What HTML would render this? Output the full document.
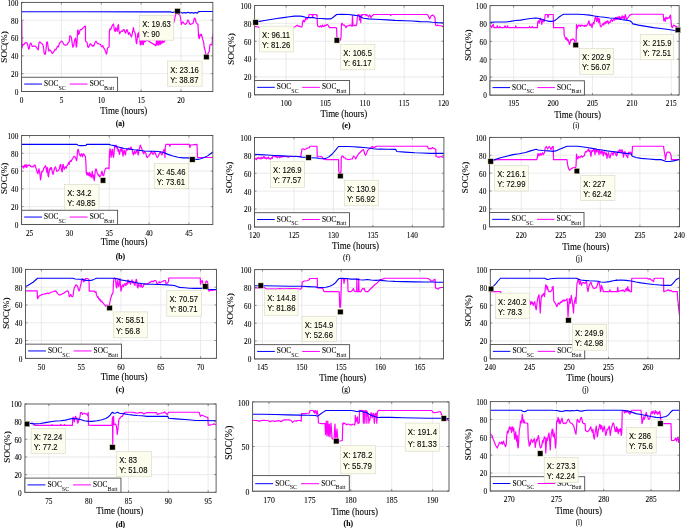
<!DOCTYPE html>
<html><head><meta charset="utf-8"><style>
html,body{margin:0;padding:0;background:#fff;}
svg{display:block;will-change:transform;}
text{font-family:'Liberation Serif', serif;fill:#000;stroke:#000;stroke-width:0.08px;}
</style></head><body>
<svg width="685" height="528" viewBox="0 0 685 528">
<rect width="685" height="528" fill="#fff"/>
<g><line x1="61.44" y1="2.4" x2="61.44" y2="91.45" stroke="#e3e3e3" stroke-width="0.7"/><line x1="101.29" y1="2.4" x2="101.29" y2="91.45" stroke="#e3e3e3" stroke-width="0.7"/><line x1="141.13" y1="2.4" x2="141.13" y2="91.45" stroke="#e3e3e3" stroke-width="0.7"/><line x1="180.97" y1="2.4" x2="180.97" y2="91.45" stroke="#e3e3e3" stroke-width="0.7"/><line x1="21.6" y1="73.64" x2="212.85" y2="73.64" stroke="#e3e3e3" stroke-width="0.7"/><line x1="21.6" y1="55.83" x2="212.85" y2="55.83" stroke="#e3e3e3" stroke-width="0.7"/><line x1="21.6" y1="38.02" x2="212.85" y2="38.02" stroke="#e3e3e3" stroke-width="0.7"/><line x1="21.6" y1="20.21" x2="212.85" y2="20.21" stroke="#e3e3e3" stroke-width="0.7"/><clipPath id="ca"><rect x="21.6" y="2.4" width="191.25" height="89.05"/></clipPath><path d="M21.72,20.93 L21.97,48.01 L22.71,44.32 L23.69,44.93 L24.92,43.09 L26.16,42.47 L27.14,43.09 L28,46.16 L28.62,49.24 L29.23,48.63 L29.85,44.93 L30.46,43.09 L31.33,43.7 L32.06,46.16 L32.93,46.53 L33.79,46.16 L34.77,46.16 L36,46.78 L37.23,48.63 L38.22,49.86 L39.08,42.47 L39.94,41.86 L40.93,42.84 L41.91,43.7 L42.77,44.56 L43.39,46.78 L44.13,52.94 L44.62,54.17 L45.36,54.17 L46.1,49.24 L46.59,42.47 L47.33,41.86 L48.07,46.78 L48.81,51.09 L49.55,49.86 L50.53,50.47 L51.39,51.7 L52.25,53.55 L53.24,52.32 L54.22,51.09 L55.09,49.24 L55.95,49.86 L56.93,47.4 L57.67,46.16 L58.41,46.78 L59.15,44.32 L60.01,42.47 L60.87,41.86 L61.86,41.24 L62.84,42.47 L63.7,44.32 L64.56,44.93 L65.55,45.3 L66.53,44.93 L67.4,44.32 L68.26,42.47 L69.24,41.86 L69.86,35.7 L70.47,36.32 L71.21,36.93 L71.7,39.39 L72.32,44.32 L72.94,47.4 L73.67,45.55 L74.17,42.47 L74.91,39.15 L75.64,38.16 L76.14,46.78 L76.63,46.78 L77.12,40.62 L77.61,30.16 L78.11,30.16 L78.6,34.47 L79.09,33.85 L79.83,30.78 L80.57,29.55 L81.55,29.55 L82.54,28.31 L83.52,27.7 L84.26,26.47 L85,26.47 L84.98,26.1 L85.48,26.47 L85.48,40.62 L86.22,41.86 L87.08,42.47 L87.69,46.78 L88.43,47.4 L89.17,46.16 L90.16,43.7 L90.89,44.32 L91.63,44.93 L92.37,46.16 L93.11,45.3 L93.85,46.16 L94.59,43.7 L95.33,41.86 L96.06,41.24 L96.8,42.47 L97.54,43.7 L98.53,43.7 L99.51,44.07 L100.5,44.56 L101.23,46.16 L101.97,46.78 L102.71,45.55 L103.45,47.4 L104.19,48.63 L104.93,49.86 L105.67,51.7 L106.41,54.17 L106.9,52.94 L107.39,48.63 L108.13,47.4 L109.11,46.78 L109.36,32.01 L109.85,28.93 L110.59,29.55 L111.33,28.31 L112.07,25.85 L112.81,24.62 L113.55,24.01 L114.04,27.7 L114.53,30.78 L115.27,31.39 L115.76,27.7 L116.5,29.55 L117.24,31.39 L117.98,25.24 L118.47,24.62 L118.96,30.78 L119.7,33.85 L120.44,32.01 L121.18,31.39 L121.92,30.78 L122.66,31.39 L123.39,29.55 L124.13,29.55 L124.87,32.01 L125.61,33.24 L126.35,30.16 L127.09,29.55 L127.83,32.01 L128.56,34.47 L129.3,32.62 L130.04,33.85 L130.78,35.7 L131.52,36.93 L132.26,33.85 L133,29.55 L133.49,27.7 L133.98,31.39 L134.72,32.01 L135.46,34.47 L136.2,42.47 L136.69,43.7 L137.43,36.93 L137.92,33.24 L138.41,36.93 L138.91,32.01 L139.64,39.64 L140.38,44.93 L141.12,39.64 L141.86,44.56 L142.6,40.01 L143.34,44.56 L144.08,40.01 L145.06,41.86 L146.78,40.01 L156,45.62 L156.5,40 L157.25,45 L158,40.25 L158.75,45.25 L159.5,40.62 L160.25,44.38 L161,40 L161.75,43.75 L162.75,40.62 L163.75,42.5 L174.25,21.25 L175.25,16.25 L175.75,14.38 L176.75,13.12 L179.88,15 L180.75,18.75 L181.25,24.38 L182,23.12 L183,21.88 L184.25,23.75 L185.5,24.38 L186.75,23.12 L187.75,20 L188.62,20.62 L189.5,23.75 L190.5,24.38 L191.75,23.75 L192.75,23.75 L193.62,21.25 L194.25,18.12 L195.25,18.75 L196.12,22.5 L197,23.75 L198,24.38 L198.5,36.25 L199.25,38.75 L200,34.38 L200.75,35.62 L201.5,34.38 L202.25,37.5 L202.75,40 L203.5,41.25 L204.25,47.5 L205,50 L205.5,52.5 L206,55 L208,53.75 L209.25,51.25 L209.88,45 L211.12,44.38 L212,45 L212.75,36.25 L213.5,33.12 L214,31.88" fill="none" stroke="#ff00ff" stroke-width="1.2" stroke-linejoin="round" clip-path="url(#ca)"/><path d="M21.48,11.7 L85,11.7 L148,11.88 L170.5,11.88 L172.38,12.5 L174.88,11.88 L180.5,12.25 L182.38,13.12 L184.25,12.5 L186.12,13.12 L188,12.25 L189.88,13.12 L191.75,12.5 L193.62,13.12 L195.5,12.5 L197.38,13.12 L198.62,11.62 L200.5,11.5 L214,11.5" fill="none" stroke="#0000ff" stroke-width="1.1" stroke-linejoin="round" clip-path="url(#ca)"/><line x1="21.6" y1="91.45" x2="21.6" y2="89.45" stroke="#4d4d4d" stroke-width="0.6"/><line x1="21.6" y1="2.4" x2="21.6" y2="4.4" stroke="#4d4d4d" stroke-width="0.6"/><line x1="61.44" y1="91.45" x2="61.44" y2="89.45" stroke="#4d4d4d" stroke-width="0.6"/><line x1="61.44" y1="2.4" x2="61.44" y2="4.4" stroke="#4d4d4d" stroke-width="0.6"/><line x1="101.29" y1="91.45" x2="101.29" y2="89.45" stroke="#4d4d4d" stroke-width="0.6"/><line x1="101.29" y1="2.4" x2="101.29" y2="4.4" stroke="#4d4d4d" stroke-width="0.6"/><line x1="141.13" y1="91.45" x2="141.13" y2="89.45" stroke="#4d4d4d" stroke-width="0.6"/><line x1="141.13" y1="2.4" x2="141.13" y2="4.4" stroke="#4d4d4d" stroke-width="0.6"/><line x1="180.97" y1="91.45" x2="180.97" y2="89.45" stroke="#4d4d4d" stroke-width="0.6"/><line x1="180.97" y1="2.4" x2="180.97" y2="4.4" stroke="#4d4d4d" stroke-width="0.6"/><line x1="21.6" y1="91.45" x2="23.6" y2="91.45" stroke="#4d4d4d" stroke-width="0.6"/><line x1="212.85" y1="91.45" x2="210.85" y2="91.45" stroke="#4d4d4d" stroke-width="0.6"/><line x1="21.6" y1="73.64" x2="23.6" y2="73.64" stroke="#4d4d4d" stroke-width="0.6"/><line x1="212.85" y1="73.64" x2="210.85" y2="73.64" stroke="#4d4d4d" stroke-width="0.6"/><line x1="21.6" y1="55.83" x2="23.6" y2="55.83" stroke="#4d4d4d" stroke-width="0.6"/><line x1="212.85" y1="55.83" x2="210.85" y2="55.83" stroke="#4d4d4d" stroke-width="0.6"/><line x1="21.6" y1="38.02" x2="23.6" y2="38.02" stroke="#4d4d4d" stroke-width="0.6"/><line x1="212.85" y1="38.02" x2="210.85" y2="38.02" stroke="#4d4d4d" stroke-width="0.6"/><line x1="21.6" y1="20.21" x2="23.6" y2="20.21" stroke="#4d4d4d" stroke-width="0.6"/><line x1="212.85" y1="20.21" x2="210.85" y2="20.21" stroke="#4d4d4d" stroke-width="0.6"/><line x1="21.6" y1="2.4" x2="23.6" y2="2.4" stroke="#4d4d4d" stroke-width="0.6"/><line x1="212.85" y1="2.4" x2="210.85" y2="2.4" stroke="#4d4d4d" stroke-width="0.6"/><rect x="21.6" y="2.4" width="191.25" height="89.05" fill="none" stroke="#4d4d4d" stroke-width="0.9"/><text transform="translate(21.6,102.65) scale(1,1.1)" font-size="7.3" text-anchor="middle">0</text><text transform="translate(61.44,102.65) scale(1,1.1)" font-size="7.3" text-anchor="middle">5</text><text transform="translate(101.29,102.65) scale(1,1.1)" font-size="7.3" text-anchor="middle">10</text><text transform="translate(141.13,102.65) scale(1,1.1)" font-size="7.3" text-anchor="middle">15</text><text transform="translate(180.97,102.65) scale(1,1.1)" font-size="7.3" text-anchor="middle">20</text><text transform="translate(18.4,94.85) scale(1,1.1)" font-size="7.3" text-anchor="end">0</text><text transform="translate(18.4,77.04) scale(1,1.1)" font-size="7.3" text-anchor="end">20</text><text transform="translate(18.4,59.23) scale(1,1.1)" font-size="7.3" text-anchor="end">40</text><text transform="translate(18.4,41.42) scale(1,1.1)" font-size="7.3" text-anchor="end">60</text><text transform="translate(18.4,23.61) scale(1,1.1)" font-size="7.3" text-anchor="end">80</text><text transform="translate(18.4,5.8) scale(1,1.1)" font-size="7.3" text-anchor="end">100</text><text transform="translate(123.75,114.2) scale(1,1.12)" font-size="9" text-anchor="middle">Time (hours)</text><text transform="translate(120.1,125.9) scale(1,1.1)" font-size="7.7" font-weight="bold" text-anchor="middle">(a)</text><text transform="translate(6.7,47) rotate(-90)" font-size="9.1" text-anchor="middle">SOC(%)</text><rect x="21.6" y="77.25" width="96.0" height="14.2" fill="#fff" stroke="#4d4d4d" stroke-width="0.9"/><line x1="24.2" y1="84.05" x2="42" y2="84.05" stroke="#0000ff" stroke-width="1"/><text transform="translate(44.1,86.05) scale(1,1.1)" font-size="7.4">SOC<tspan font-size="6.1" dy="3.4" stroke="none">SC</tspan></text><line x1="69.7" y1="84.05" x2="87.6" y2="84.05" stroke="#ff00ff" stroke-width="1"/><text transform="translate(89.7,86.05) scale(1,1.1)" font-size="7.4">SOC<tspan font-size="6.1" dy="3.4" stroke="none">Batt</tspan></text><rect x="139.6" y="15.35" width="34.2" height="24.85" fill="#fdfdee" stroke="#d6d6c6" stroke-width="0.6"/><text transform="translate(142.2,26.85) scale(1,1.1)" style="font-family:'Liberation Sans', sans-serif" font-size="7.7" fill="#2e2e2e" stroke="none">X: 19.63</text><text transform="translate(142.2,36.95) scale(1,1.1)" style="font-family:'Liberation Sans', sans-serif" font-size="7.7" fill="#2e2e2e" stroke="none">Y: 90</text><rect x="174.8" y="8.5" width="5.4" height="5.4" fill="#000" stroke="#e8e4b0" stroke-width="0.5"/><rect x="167.6" y="61" width="34.5" height="25.2" fill="#fdfdee" stroke="#d6d6c6" stroke-width="0.6"/><text transform="translate(170.2,72.5) scale(1,1.1)" style="font-family:'Liberation Sans', sans-serif" font-size="7.7" fill="#2e2e2e" stroke="none">X: 23.16</text><text transform="translate(170.2,82.6) scale(1,1.1)" style="font-family:'Liberation Sans', sans-serif" font-size="7.7" fill="#2e2e2e" stroke="none">Y: 38.87</text><rect x="203.7" y="54.3" width="5.4" height="5.4" fill="#000" stroke="#e8e4b0" stroke-width="0.5"/></g><g><line x1="29.57" y1="135.5" x2="29.57" y2="224.45" stroke="#e3e3e3" stroke-width="0.7"/><line x1="69.41" y1="135.5" x2="69.41" y2="224.45" stroke="#e3e3e3" stroke-width="0.7"/><line x1="109.26" y1="135.5" x2="109.26" y2="224.45" stroke="#e3e3e3" stroke-width="0.7"/><line x1="149.1" y1="135.5" x2="149.1" y2="224.45" stroke="#e3e3e3" stroke-width="0.7"/><line x1="188.94" y1="135.5" x2="188.94" y2="224.45" stroke="#e3e3e3" stroke-width="0.7"/><line x1="21.6" y1="206.66" x2="212.85" y2="206.66" stroke="#e3e3e3" stroke-width="0.7"/><line x1="21.6" y1="188.87" x2="212.85" y2="188.87" stroke="#e3e3e3" stroke-width="0.7"/><line x1="21.6" y1="171.08" x2="212.85" y2="171.08" stroke="#e3e3e3" stroke-width="0.7"/><line x1="21.6" y1="153.29" x2="212.85" y2="153.29" stroke="#e3e3e3" stroke-width="0.7"/><clipPath id="cb"><rect x="21.6" y="135.5" width="191.25" height="88.95"/></clipPath><path d="M21.5,165.62 L22.25,166.88 L23,166.25 L23.75,168.12 L24.5,165 L25.25,166.88 L26,164.38 L26.75,167.5 L27.5,165.62 L28.25,165 L29,165.62 L29.75,165 L30.5,166.25 L31.25,166.88 L32,166.25 L32.75,166.88 L33.5,166.88 L34.25,165 L35,165 L35.75,167.5 L36.5,169.38 L37.25,172.5 L38,173.75 L38.5,170.62 L39,168.75 L39.5,171.25 L40,175 L40.5,180 L41,177.5 L41.5,172.5 L42,171.25 L42.5,171.88 L43.25,170 L43.75,168.12 L44.5,167.5 L45,166.25 L45.5,165.62 L46,166.88 L46.5,170.62 L47,172.5 L47.5,167.5 L48,175 L48.5,176.88 L49,172.5 L49.5,170 L50,168.12 L50.5,169.38 L51,167.5 L51.5,168.12 L52,170.62 L52.5,172.5 L53,174.38 L53.5,172.5 L54,170 L54.75,168.12 L55.5,166.88 L56,168.12 L56.5,171.25 L57.25,171.25 L58,170.62 L58.75,170 L59.5,168.75 L60,165 L60.75,164.38 L61.25,168.75 L61.75,171.25 L62.25,171.88 L62.75,165 L63.25,164.38 L63.75,167.5 L64.25,169.38 L64.75,168.12 L65.5,166.88 L66.25,168.12 L67,165.62 L67.75,165 L68.25,163.75 L68.75,162.5 L69.25,164.38 L69.75,161.88 L70.5,160.62 L71.25,161.25 L72,159.38 L72.75,158.75 L73.5,156.88 L74.25,156.25 L75,156.88 L75.75,158.12 L76.5,160.62 L77,158.12 L77.5,151.25 L78,149.38 L78.5,150 L79,153.12 L79.75,155 L80.5,156.25 L81.25,153.75 L82,154.38 L82.5,156.88 L83.25,153.75 L84,154.38 L84.75,155.62 L85.5,156.88 L85.5,157.5 L86,165 L86.25,172.5 L86.75,175 L87.25,172.5 L87.75,175 L88.25,173.12 L88.75,175.62 L89.5,172.5 L90,176.25 L90.5,173.75 L91.25,177.5 L91.75,175 L92.25,171.25 L92.75,176.25 L93.25,178.12 L93.75,175 L94.25,180.62 L94.75,176.25 L95.25,171.25 L96,168.75 L96.5,170 L97,172.5 L97.75,173.75 L98.25,175.62 L99,175 L99.5,176.88 L100.25,176.25 L101,175 L101.5,172.5 L102,171.25 L102.5,173.75 L103,175.62 L103.75,175.62 L104.25,172.5 L104.75,170.62 L105.5,168.75 L106.25,168.12 L107.25,168.12 L108.25,168.12 L109,168.75 L109.5,152.5 L110,148.75 L110.5,150.62 L111,157.5 L111.5,155 L112,150 L112.5,149.38 L113,155 L113.5,157.5 L114,153.75 L114.5,147.5 L115,145.62 L115.5,146.88 L116,145 L116.5,146.25 L117,148.75 L117.5,147.5 L118,151.25 L118.5,149.38 L119,152.5 L119.5,154.38 L120,151.25 L120.5,148.75 L121,149.38 L121.5,151.25 L122,147.5 L122.5,152.5 L123,156.25 L123.5,153.75 L124,150 L124.5,151.25 L125,153.75 L125.5,155 L126,150.62 L126.5,149.38 L127.25,150 L128,148.75 L128.75,148.12 L129.5,149.38 L130.25,148.75 L131,146.88 L131.5,148.12 L132.25,150.62 L133,153.75 L133.5,155 L134,152.5 L134.5,151.25 L135.25,153.75 L136,152.5 L136.5,150.62 L137.25,150 L137.75,153.12 L138.25,155 L138.75,152.5 L139.25,148.75 L139.75,147.5 L140.25,145 L141,146.88 L141.5,148.12 L142.25,150 L143,152.5 L143.75,153.75 L144.5,151.25 L145.25,152.5 L146,153.75 L146.5,156.88 L147.25,157.5 L148,156.25 L149,156.25 L149.25,155 L150.5,153.75 L151.25,151.25 L152,152.5 L153,154.38 L153.75,153.75 L154.5,151.25 L155.25,153.12 L156,155 L156.75,156.88 L157.5,157.5 L158.25,156.25 L159,154.38 L159.75,153.12 L160.5,151.88 L161.25,153.75 L162,155 L162.75,152.5 L163.5,150.62 L164,149.38 L164.5,149.75 L165,157.5 L165.25,146.88 L165.75,145 L166.25,144.38 L169.25,144.38 L169.88,146.25 L170.5,144.38 L189.25,144.38 L189.88,147.5 L190.5,145 L197,144.38 L197.5,157.5 L214,157.5" fill="none" stroke="#ff00ff" stroke-width="1.2" stroke-linejoin="round" clip-path="url(#cb)"/><path d="M21.5,144.38 L76.88,144.38 L78.12,145.25 L80,145.62 L82.5,145.62 L86,145.25 L86,145.62 L86.5,144.38 L109,144.38 L110.88,145 L114,145.62 L116.5,146.5 L120.25,147.5 L124,148.5 L129,149 L134,149.75 L139,150.25 L144,151 L150,151.25 L153,151.25 L158,151.5 L163,152.25 L168,154.38 L173,156 L178,157.25 L183,157.88 L188,157.88 L192.38,158.75 L195.5,159.38 L198,159.38 L200.5,158.75 L204.25,157.5 L208,155.62 L210.5,153.75 L214,151.25" fill="none" stroke="#0000ff" stroke-width="1.1" stroke-linejoin="round" clip-path="url(#cb)"/><line x1="29.57" y1="224.45" x2="29.57" y2="222.45" stroke="#4d4d4d" stroke-width="0.6"/><line x1="29.57" y1="135.5" x2="29.57" y2="137.5" stroke="#4d4d4d" stroke-width="0.6"/><line x1="69.41" y1="224.45" x2="69.41" y2="222.45" stroke="#4d4d4d" stroke-width="0.6"/><line x1="69.41" y1="135.5" x2="69.41" y2="137.5" stroke="#4d4d4d" stroke-width="0.6"/><line x1="109.26" y1="224.45" x2="109.26" y2="222.45" stroke="#4d4d4d" stroke-width="0.6"/><line x1="109.26" y1="135.5" x2="109.26" y2="137.5" stroke="#4d4d4d" stroke-width="0.6"/><line x1="149.1" y1="224.45" x2="149.1" y2="222.45" stroke="#4d4d4d" stroke-width="0.6"/><line x1="149.1" y1="135.5" x2="149.1" y2="137.5" stroke="#4d4d4d" stroke-width="0.6"/><line x1="188.94" y1="224.45" x2="188.94" y2="222.45" stroke="#4d4d4d" stroke-width="0.6"/><line x1="188.94" y1="135.5" x2="188.94" y2="137.5" stroke="#4d4d4d" stroke-width="0.6"/><line x1="21.6" y1="224.45" x2="23.6" y2="224.45" stroke="#4d4d4d" stroke-width="0.6"/><line x1="212.85" y1="224.45" x2="210.85" y2="224.45" stroke="#4d4d4d" stroke-width="0.6"/><line x1="21.6" y1="206.66" x2="23.6" y2="206.66" stroke="#4d4d4d" stroke-width="0.6"/><line x1="212.85" y1="206.66" x2="210.85" y2="206.66" stroke="#4d4d4d" stroke-width="0.6"/><line x1="21.6" y1="188.87" x2="23.6" y2="188.87" stroke="#4d4d4d" stroke-width="0.6"/><line x1="212.85" y1="188.87" x2="210.85" y2="188.87" stroke="#4d4d4d" stroke-width="0.6"/><line x1="21.6" y1="171.08" x2="23.6" y2="171.08" stroke="#4d4d4d" stroke-width="0.6"/><line x1="212.85" y1="171.08" x2="210.85" y2="171.08" stroke="#4d4d4d" stroke-width="0.6"/><line x1="21.6" y1="153.29" x2="23.6" y2="153.29" stroke="#4d4d4d" stroke-width="0.6"/><line x1="212.85" y1="153.29" x2="210.85" y2="153.29" stroke="#4d4d4d" stroke-width="0.6"/><line x1="21.6" y1="135.5" x2="23.6" y2="135.5" stroke="#4d4d4d" stroke-width="0.6"/><line x1="212.85" y1="135.5" x2="210.85" y2="135.5" stroke="#4d4d4d" stroke-width="0.6"/><rect x="21.6" y="135.5" width="191.25" height="88.95" fill="none" stroke="#4d4d4d" stroke-width="0.9"/><text transform="translate(29.57,235.65) scale(1,1.1)" font-size="7.3" text-anchor="middle">25</text><text transform="translate(69.41,235.65) scale(1,1.1)" font-size="7.3" text-anchor="middle">30</text><text transform="translate(109.26,235.65) scale(1,1.1)" font-size="7.3" text-anchor="middle">35</text><text transform="translate(149.1,235.65) scale(1,1.1)" font-size="7.3" text-anchor="middle">40</text><text transform="translate(188.94,235.65) scale(1,1.1)" font-size="7.3" text-anchor="middle">45</text><text transform="translate(18.4,227.85) scale(1,1.1)" font-size="7.3" text-anchor="end">0</text><text transform="translate(18.4,210.06) scale(1,1.1)" font-size="7.3" text-anchor="end">20</text><text transform="translate(18.4,192.27) scale(1,1.1)" font-size="7.3" text-anchor="end">40</text><text transform="translate(18.4,174.48) scale(1,1.1)" font-size="7.3" text-anchor="end">60</text><text transform="translate(18.4,156.69) scale(1,1.1)" font-size="7.3" text-anchor="end">80</text><text transform="translate(18.4,138.9) scale(1,1.1)" font-size="7.3" text-anchor="end">100</text><text transform="translate(124.1,244.9) scale(1,1.12)" font-size="9" text-anchor="middle">Time (hours)</text><text transform="translate(120.45,259.1) scale(1,1.1)" font-size="7.7" font-weight="bold" text-anchor="middle">(b)</text><text transform="translate(6.5,178.3) rotate(-90)" font-size="9.1" text-anchor="middle">SOC(%)</text><rect x="21.6" y="210.25" width="96.0" height="14.2" fill="#fff" stroke="#4d4d4d" stroke-width="0.9"/><line x1="24.2" y1="217.05" x2="42" y2="217.05" stroke="#0000ff" stroke-width="1"/><text transform="translate(44.1,219.05) scale(1,1.1)" font-size="7.4">SOC<tspan font-size="6.1" dy="3.4" stroke="none">SC</tspan></text><line x1="69.7" y1="217.05" x2="87.6" y2="217.05" stroke="#ff00ff" stroke-width="1"/><text transform="translate(89.7,219.05) scale(1,1.1)" font-size="7.4">SOC<tspan font-size="6.1" dy="3.4" stroke="none">Batt</tspan></text><rect x="64.6" y="184.4" width="34.4" height="25" fill="#fdfdee" stroke="#d6d6c6" stroke-width="0.6"/><text transform="translate(67.2,195.9) scale(1,1.1)" style="font-family:'Liberation Sans', sans-serif" font-size="7.7" fill="#2e2e2e" stroke="none">X: 34.2</text><text transform="translate(67.2,206) scale(1,1.1)" style="font-family:'Liberation Sans', sans-serif" font-size="7.7" fill="#2e2e2e" stroke="none">Y: 49.85</text><rect x="100.3" y="177.7" width="5.4" height="5.4" fill="#000" stroke="#e8e4b0" stroke-width="0.5"/><rect x="154.2" y="163.4" width="34.5" height="25.3" fill="#fdfdee" stroke="#d6d6c6" stroke-width="0.6"/><text transform="translate(156.8,174.9) scale(1,1.1)" style="font-family:'Liberation Sans', sans-serif" font-size="7.7" fill="#2e2e2e" stroke="none">X: 45.46</text><text transform="translate(156.8,185) scale(1,1.1)" style="font-family:'Liberation Sans', sans-serif" font-size="7.7" fill="#2e2e2e" stroke="none">Y: 73.61</text><rect x="189.7" y="156.8" width="5.4" height="5.4" fill="#000" stroke="#e8e4b0" stroke-width="0.5"/></g><g><line x1="41.42" y1="269.4" x2="41.42" y2="358.35" stroke="#e3e3e3" stroke-width="0.7"/><line x1="81.21" y1="269.4" x2="81.21" y2="358.35" stroke="#e3e3e3" stroke-width="0.7"/><line x1="121" y1="269.4" x2="121" y2="358.35" stroke="#e3e3e3" stroke-width="0.7"/><line x1="160.79" y1="269.4" x2="160.79" y2="358.35" stroke="#e3e3e3" stroke-width="0.7"/><line x1="200.58" y1="269.4" x2="200.58" y2="358.35" stroke="#e3e3e3" stroke-width="0.7"/><line x1="25.5" y1="340.56" x2="216.5" y2="340.56" stroke="#e3e3e3" stroke-width="0.7"/><line x1="25.5" y1="322.77" x2="216.5" y2="322.77" stroke="#e3e3e3" stroke-width="0.7"/><line x1="25.5" y1="304.98" x2="216.5" y2="304.98" stroke="#e3e3e3" stroke-width="0.7"/><line x1="25.5" y1="287.19" x2="216.5" y2="287.19" stroke="#e3e3e3" stroke-width="0.7"/><clipPath id="cc"><rect x="25.5" y="269.4" width="191" height="88.95"/></clipPath><path d="M25.5,290.88 L37.12,290.88 L37.5,298.62 L38,298 L38.75,296.5 L39.62,295.75 L40.5,295.25 L41.5,294.88 L42.75,294.25 L44,294.25 L45.25,293.62 L46.5,293.62 L47.75,293 L49,293.62 L50.25,292.75 L51.5,292 L52.75,291.75 L54,291.5 L55,290.88 L55.88,291.12 L56.75,292.38 L57.75,293.62 L59,294.88 L60.25,294.88 L61.5,294.25 L62.75,293.62 L64,293 L65.25,292 L66.5,291.12 L67.75,290.88 L68.5,291.75 L69.25,296.75 L70,296.12 L70.75,294.25 L71.5,296.12 L72.25,296.75 L73,296.12 L73.5,292.38 L74,288.62 L74.5,287.38 L75.25,286.12 L76,284.88 L77,285.5 L77.75,286.75 L78.5,289.88 L79,291.12 L79.75,289.25 L80.5,285.5 L81,284.25 L81.5,280.5 L82,279.88 L82.75,278.62 L83.5,281.75 L84,279.88 L84.75,281.12 L85.5,278.62 L86.5,278.62 L87.75,278.62 L88.5,279.25 L89,279.25 L89.25,291.12 L94.25,291.12 L95.25,292.38 L96,291.75 L96.5,294.88 L97,296.12 L97.5,297.38 L98,296.75 L98.5,298 L99,299.25 L99.5,298.62 L100,300.5 L100.5,299.88 L101,301.75 L101.75,301.12 L102.5,302.38 L103.25,303 L104,304.25 L104.75,304.88 L105.5,306.12 L106.25,305.5 L107,304.88 L107.75,306.12 L108.75,306.75 L109.5,304.25 L110,301.75 L110.5,298.62 L111.25,296.75 L111.75,294.88 L112.5,293.62 L113,293 L113.5,281.75 L114,278.62 L114.75,278 L115.5,278.62 L116.25,286.75 L116.75,288 L117.25,281.75 L117.75,280.5 L118.25,284.88 L118.75,286.75 L119.25,284.25 L120,278.62 L120.5,285.5 L121,291.12 L121.5,289.25 L122,286.12 L122.75,284.88 L123.5,286.75 L124.25,284.25 L125,283.62 L125.75,285.5 L126.5,283 L127.25,284.25 L128,279.88 L128.75,283 L129.25,281.12 L130,282.38 L130.5,284.25 L131.25,281.75 L132,279.88 L132.75,283 L133.5,281.75 L134.25,284.25 L135,285.5 L135.5,282.38 L136.25,279.25 L136.75,280.5 L137.25,286.75 L138,288 L138.5,283.62 L139.25,285.5 L140.25,286.75 L141,284.25 L142,287.38 L143,286.75 L144,284.25 L145,284.25 L146,283.62 L147,284.25 L148,283.62 L149,283 L150,282.38 L151,281.75 L152,281.12 L152,281.12 L153.25,281.75 L154.5,280.5 L155.75,280.5 L156.5,282.38 L157.25,284.25 L158.25,283 L159.25,281.75 L160,283 L160.75,282.38 L161.5,281.75 L162.5,281.5 L163.25,281.12 L164.5,280.5 L165.5,280.5 L166,283.62 L166.75,283.62 L167.75,282.38 L168.5,281.75 L168.75,278 L200.25,278 L200.5,284.25 L201.5,281.12 L202.25,280.5 L203,284.88 L203.88,286.12 L205.12,285.5 L206,281.12 L207,281.12 L207.75,283 L208.25,288 L208.88,291.12 L210.12,290.5 L212,290.5 L214.5,289.88 L218,289.88" fill="none" stroke="#ff00ff" stroke-width="1.2" stroke-linejoin="round" clip-path="url(#cc)"/><path d="M25.5,286.5 L27.75,285.5 L30.25,284 L33.38,282 L37.5,278.25 L72.75,278.25 L75.25,279 L79,279.25 L81.5,279.25 L84,279.88 L86.5,280.5 L88,280.5 L90.5,280.5 L93,279.88 L95.5,278.62 L96.75,278.25 L113,278.25 L116.75,278.62 L120.5,279.88 L124.25,280.5 L128,281.12 L133,282 L138,283 L141.75,283.62 L145.5,284 L150.5,284.25 L152,284.25 L159.5,284.5 L167,284.88 L174.5,285.5 L177,286.5 L179.5,287.38 L184.5,287.75 L189.5,288.25 L194.5,288.38 L200.75,288.38 L204.5,288 L208.25,289.25 L212,289.5 L218,289.5" fill="none" stroke="#0000ff" stroke-width="1.1" stroke-linejoin="round" clip-path="url(#cc)"/><line x1="41.42" y1="358.35" x2="41.42" y2="356.35" stroke="#4d4d4d" stroke-width="0.6"/><line x1="41.42" y1="269.4" x2="41.42" y2="271.4" stroke="#4d4d4d" stroke-width="0.6"/><line x1="81.21" y1="358.35" x2="81.21" y2="356.35" stroke="#4d4d4d" stroke-width="0.6"/><line x1="81.21" y1="269.4" x2="81.21" y2="271.4" stroke="#4d4d4d" stroke-width="0.6"/><line x1="121" y1="358.35" x2="121" y2="356.35" stroke="#4d4d4d" stroke-width="0.6"/><line x1="121" y1="269.4" x2="121" y2="271.4" stroke="#4d4d4d" stroke-width="0.6"/><line x1="160.79" y1="358.35" x2="160.79" y2="356.35" stroke="#4d4d4d" stroke-width="0.6"/><line x1="160.79" y1="269.4" x2="160.79" y2="271.4" stroke="#4d4d4d" stroke-width="0.6"/><line x1="200.58" y1="358.35" x2="200.58" y2="356.35" stroke="#4d4d4d" stroke-width="0.6"/><line x1="200.58" y1="269.4" x2="200.58" y2="271.4" stroke="#4d4d4d" stroke-width="0.6"/><line x1="25.5" y1="358.35" x2="27.5" y2="358.35" stroke="#4d4d4d" stroke-width="0.6"/><line x1="216.5" y1="358.35" x2="214.5" y2="358.35" stroke="#4d4d4d" stroke-width="0.6"/><line x1="25.5" y1="340.56" x2="27.5" y2="340.56" stroke="#4d4d4d" stroke-width="0.6"/><line x1="216.5" y1="340.56" x2="214.5" y2="340.56" stroke="#4d4d4d" stroke-width="0.6"/><line x1="25.5" y1="322.77" x2="27.5" y2="322.77" stroke="#4d4d4d" stroke-width="0.6"/><line x1="216.5" y1="322.77" x2="214.5" y2="322.77" stroke="#4d4d4d" stroke-width="0.6"/><line x1="25.5" y1="304.98" x2="27.5" y2="304.98" stroke="#4d4d4d" stroke-width="0.6"/><line x1="216.5" y1="304.98" x2="214.5" y2="304.98" stroke="#4d4d4d" stroke-width="0.6"/><line x1="25.5" y1="287.19" x2="27.5" y2="287.19" stroke="#4d4d4d" stroke-width="0.6"/><line x1="216.5" y1="287.19" x2="214.5" y2="287.19" stroke="#4d4d4d" stroke-width="0.6"/><line x1="25.5" y1="269.4" x2="27.5" y2="269.4" stroke="#4d4d4d" stroke-width="0.6"/><line x1="216.5" y1="269.4" x2="214.5" y2="269.4" stroke="#4d4d4d" stroke-width="0.6"/><rect x="25.5" y="269.4" width="191" height="88.95" fill="none" stroke="#4d4d4d" stroke-width="0.9"/><text transform="translate(41.42,369.55) scale(1,1.1)" font-size="7.3" text-anchor="middle">50</text><text transform="translate(81.21,369.55) scale(1,1.1)" font-size="7.3" text-anchor="middle">55</text><text transform="translate(121,369.55) scale(1,1.1)" font-size="7.3" text-anchor="middle">60</text><text transform="translate(160.79,369.55) scale(1,1.1)" font-size="7.3" text-anchor="middle">65</text><text transform="translate(200.58,369.55) scale(1,1.1)" font-size="7.3" text-anchor="middle">70</text><text transform="translate(22.3,361.75) scale(1,1.1)" font-size="7.3" text-anchor="end">0</text><text transform="translate(22.3,343.96) scale(1,1.1)" font-size="7.3" text-anchor="end">20</text><text transform="translate(22.3,326.17) scale(1,1.1)" font-size="7.3" text-anchor="end">40</text><text transform="translate(22.3,308.38) scale(1,1.1)" font-size="7.3" text-anchor="end">60</text><text transform="translate(22.3,290.59) scale(1,1.1)" font-size="7.3" text-anchor="end">80</text><text transform="translate(22.3,272.8) scale(1,1.1)" font-size="7.3" text-anchor="end">100</text><text transform="translate(124.1,379.7) scale(1,1.12)" font-size="9" text-anchor="middle">Time (hours)</text><text transform="translate(120.1,392.4) scale(1,1.1)" font-size="7.7" font-weight="bold" text-anchor="middle">(c)</text><text transform="translate(9.1,313.2) rotate(-90)" font-size="9.1" text-anchor="middle">SOC(%)</text><rect x="25.5" y="344.15" width="96.0" height="14.2" fill="#fff" stroke="#4d4d4d" stroke-width="0.9"/><line x1="28.1" y1="350.95" x2="45.9" y2="350.95" stroke="#0000ff" stroke-width="1"/><text transform="translate(48,352.95) scale(1,1.1)" font-size="7.4">SOC<tspan font-size="6.1" dy="3.4" stroke="none">SC</tspan></text><line x1="73.6" y1="350.95" x2="91.5" y2="350.95" stroke="#ff00ff" stroke-width="1"/><text transform="translate(93.6,352.95) scale(1,1.1)" font-size="7.4">SOC<tspan font-size="6.1" dy="3.4" stroke="none">Batt</tspan></text><rect x="113.4" y="311.9" width="34.3" height="25.9" fill="#fdfdee" stroke="#d6d6c6" stroke-width="0.6"/><text transform="translate(116,323.4) scale(1,1.1)" style="font-family:'Liberation Sans', sans-serif" font-size="7.7" fill="#2e2e2e" stroke="none">X: 58.51</text><text transform="translate(116,333.5) scale(1,1.1)" style="font-family:'Liberation Sans', sans-serif" font-size="7.7" fill="#2e2e2e" stroke="none">Y: 56.8</text><rect x="106.85" y="305.3" width="5.4" height="5.4" fill="#000" stroke="#e8e4b0" stroke-width="0.5"/><rect x="166.8" y="290.6" width="34.6" height="25.6" fill="#fdfdee" stroke="#d6d6c6" stroke-width="0.6"/><text transform="translate(169.4,302.1) scale(1,1.1)" style="font-family:'Liberation Sans', sans-serif" font-size="7.7" fill="#2e2e2e" stroke="none">X: 70.57</text><text transform="translate(169.4,312.2) scale(1,1.1)" style="font-family:'Liberation Sans', sans-serif" font-size="7.7" fill="#2e2e2e" stroke="none">Y: 80.71</text><rect x="202.65" y="283.75" width="5.4" height="5.4" fill="#000" stroke="#e8e4b0" stroke-width="0.5"/></g><g><line x1="48.84" y1="404" x2="48.84" y2="492.3" stroke="#e3e3e3" stroke-width="0.7"/><line x1="88.67" y1="404" x2="88.67" y2="492.3" stroke="#e3e3e3" stroke-width="0.7"/><line x1="128.49" y1="404" x2="128.49" y2="492.3" stroke="#e3e3e3" stroke-width="0.7"/><line x1="168.31" y1="404" x2="168.31" y2="492.3" stroke="#e3e3e3" stroke-width="0.7"/><line x1="208.14" y1="404" x2="208.14" y2="492.3" stroke="#e3e3e3" stroke-width="0.7"/><line x1="24.95" y1="474.64" x2="216.1" y2="474.64" stroke="#e3e3e3" stroke-width="0.7"/><line x1="24.95" y1="456.98" x2="216.1" y2="456.98" stroke="#e3e3e3" stroke-width="0.7"/><line x1="24.95" y1="439.32" x2="216.1" y2="439.32" stroke="#e3e3e3" stroke-width="0.7"/><line x1="24.95" y1="421.66" x2="216.1" y2="421.66" stroke="#e3e3e3" stroke-width="0.7"/><clipPath id="cd"><rect x="24.95" y="404" width="191.15" height="88.3"/></clipPath><path d="M24.75,423.88 L30.5,423.5 L31.75,423 L33,423.25 L34.25,425.12 L35.5,425.38 L51.75,425.38 L52,424.5 L52.5,425.38 L60.5,425.38 L60.75,424.25 L61.25,425.38 L64.25,425.38 L64.5,424.5 L65,425.38 L72.38,425.38 L72.75,418.25 L73.25,417 L73.75,419.5 L74.25,422 L75,418.25 L75.5,416.38 L76.25,417.62 L77,418.88 L77.75,423.25 L78.5,421.38 L79.25,418.25 L80,417 L80.5,412.62 L81.75,412.62 L82.5,414.5 L83,413.25 L84.25,413.25 L85.5,413.88 L87,413.88 L87.75,415.75 L88.25,412.62 L88.5,425.12 L94.5,425.38 L102,425.38 L107,425.38 L112,425.38 L112.5,417 L112.75,444.5 L113,424.5 L113.5,416.38 L114,424.5 L114.75,424.5 L115.5,423.88 L116.25,425.75 L116.75,428.88 L117.25,434.5 L117.75,430.75 L118.25,425.75 L118.75,420.75 L119.25,418.25 L120,418.25 L120.75,417 L121.5,416.38 L122.25,416.38 L123,415.12 L123.5,413.88 L124,413.25 L124.5,412.62 L125.75,412.25 L132,412.25 L134.5,412.62 L137,413.25 L139.5,412.62 L142,412.62 L143.88,413.88 L145.12,413.25 L147,412.62 L153,412.62 L151,412.62 L156.62,412.62 L157.25,414.5 L158.5,413.88 L161,413.25 L163.5,412.62 L164.75,412 L166,413.25 L167.25,414.5 L168.5,412.25 L199.12,412.25 L200.38,416.38 L201.62,415.12 L203.5,415.75 L206,417 L207.88,417.62 L208.25,425.12 L209.75,425.12 L212.25,424.5 L214.12,423.88 L215.38,424.5 L217,424.25" fill="none" stroke="#ff00ff" stroke-width="1.2" stroke-linejoin="round" clip-path="url(#cd)"/><path d="M24.75,423.25 L30.5,423.5 L34.25,423.88 L40.5,423.5 L45.5,422.62 L50.5,421.75 L55.5,421 L60.5,420.75 L65.5,420.12 L68,419.5 L70.5,418.88 L73,418.5 L76.75,418.88 L80.5,419.5 L84.25,420.75 L89,421.38 L89,421.38 L92,421.38 L97,420.75 L102,419.75 L105.75,418.5 L108.25,417 L110.12,415.12 L111.38,413.25 L112.62,412.25 L113.88,413.25 L115.75,413 L117.62,412.25 L119.5,413.25 L122,413.5 L124.5,413.88 L128.25,414.5 L133.25,415.12 L137,415.5 L142,415.75 L147,416.38 L153,416.38 L151,416.38 L167.88,416.38 L168.5,418.25 L176,418.88 L188.5,419.75 L196,420.5 L203.5,420.5 L217,420.75" fill="none" stroke="#0000ff" stroke-width="1.1" stroke-linejoin="round" clip-path="url(#cd)"/><line x1="48.84" y1="492.3" x2="48.84" y2="490.3" stroke="#4d4d4d" stroke-width="0.6"/><line x1="48.84" y1="404" x2="48.84" y2="406" stroke="#4d4d4d" stroke-width="0.6"/><line x1="88.67" y1="492.3" x2="88.67" y2="490.3" stroke="#4d4d4d" stroke-width="0.6"/><line x1="88.67" y1="404" x2="88.67" y2="406" stroke="#4d4d4d" stroke-width="0.6"/><line x1="128.49" y1="492.3" x2="128.49" y2="490.3" stroke="#4d4d4d" stroke-width="0.6"/><line x1="128.49" y1="404" x2="128.49" y2="406" stroke="#4d4d4d" stroke-width="0.6"/><line x1="168.31" y1="492.3" x2="168.31" y2="490.3" stroke="#4d4d4d" stroke-width="0.6"/><line x1="168.31" y1="404" x2="168.31" y2="406" stroke="#4d4d4d" stroke-width="0.6"/><line x1="208.14" y1="492.3" x2="208.14" y2="490.3" stroke="#4d4d4d" stroke-width="0.6"/><line x1="208.14" y1="404" x2="208.14" y2="406" stroke="#4d4d4d" stroke-width="0.6"/><line x1="24.95" y1="492.3" x2="26.95" y2="492.3" stroke="#4d4d4d" stroke-width="0.6"/><line x1="216.1" y1="492.3" x2="214.1" y2="492.3" stroke="#4d4d4d" stroke-width="0.6"/><line x1="24.95" y1="474.64" x2="26.95" y2="474.64" stroke="#4d4d4d" stroke-width="0.6"/><line x1="216.1" y1="474.64" x2="214.1" y2="474.64" stroke="#4d4d4d" stroke-width="0.6"/><line x1="24.95" y1="456.98" x2="26.95" y2="456.98" stroke="#4d4d4d" stroke-width="0.6"/><line x1="216.1" y1="456.98" x2="214.1" y2="456.98" stroke="#4d4d4d" stroke-width="0.6"/><line x1="24.95" y1="439.32" x2="26.95" y2="439.32" stroke="#4d4d4d" stroke-width="0.6"/><line x1="216.1" y1="439.32" x2="214.1" y2="439.32" stroke="#4d4d4d" stroke-width="0.6"/><line x1="24.95" y1="421.66" x2="26.95" y2="421.66" stroke="#4d4d4d" stroke-width="0.6"/><line x1="216.1" y1="421.66" x2="214.1" y2="421.66" stroke="#4d4d4d" stroke-width="0.6"/><line x1="24.95" y1="404" x2="26.95" y2="404" stroke="#4d4d4d" stroke-width="0.6"/><line x1="216.1" y1="404" x2="214.1" y2="404" stroke="#4d4d4d" stroke-width="0.6"/><rect x="24.95" y="404" width="191.15" height="88.3" fill="none" stroke="#4d4d4d" stroke-width="0.9"/><text transform="translate(48.84,503.5) scale(1,1.1)" font-size="7.3" text-anchor="middle">75</text><text transform="translate(88.67,503.5) scale(1,1.1)" font-size="7.3" text-anchor="middle">80</text><text transform="translate(128.49,503.5) scale(1,1.1)" font-size="7.3" text-anchor="middle">85</text><text transform="translate(168.31,503.5) scale(1,1.1)" font-size="7.3" text-anchor="middle">90</text><text transform="translate(208.14,503.5) scale(1,1.1)" font-size="7.3" text-anchor="middle">95</text><text transform="translate(21.75,495.7) scale(1,1.1)" font-size="7.3" text-anchor="end">0</text><text transform="translate(21.75,478.04) scale(1,1.1)" font-size="7.3" text-anchor="end">20</text><text transform="translate(21.75,460.38) scale(1,1.1)" font-size="7.3" text-anchor="end">40</text><text transform="translate(21.75,442.72) scale(1,1.1)" font-size="7.3" text-anchor="end">60</text><text transform="translate(21.75,425.06) scale(1,1.1)" font-size="7.3" text-anchor="end">80</text><text transform="translate(21.75,407.4) scale(1,1.1)" font-size="7.3" text-anchor="end">100</text><text transform="translate(119.75,513.8) scale(1,1.12)" font-size="9" text-anchor="middle">Time (hours)</text><text transform="translate(120.45,526.5) scale(1,1.1)" font-size="7.7" font-weight="bold" text-anchor="middle">(d)</text><text transform="translate(9.6,447) rotate(-90)" font-size="9.1" text-anchor="middle">SOC(%)</text><rect x="24.95" y="478.1" width="96.0" height="14.2" fill="#fff" stroke="#4d4d4d" stroke-width="0.9"/><line x1="27.55" y1="484.9" x2="45.35" y2="484.9" stroke="#0000ff" stroke-width="1"/><text transform="translate(47.45,486.9) scale(1,1.1)" font-size="7.4">SOC<tspan font-size="6.1" dy="3.4" stroke="none">SC</tspan></text><line x1="73.05" y1="484.9" x2="90.95" y2="484.9" stroke="#ff00ff" stroke-width="1"/><text transform="translate(93.05,486.9) scale(1,1.1)" font-size="7.4">SOC<tspan font-size="6.1" dy="3.4" stroke="none">Batt</tspan></text><rect x="31.1" y="428.3" width="34.2" height="25.2" fill="#fdfdee" stroke="#d6d6c6" stroke-width="0.6"/><text transform="translate(33.7,439.8) scale(1,1.1)" style="font-family:'Liberation Sans', sans-serif" font-size="7.7" fill="#2e2e2e" stroke="none">X: 72.24</text><text transform="translate(33.7,449.9) scale(1,1.1)" style="font-family:'Liberation Sans', sans-serif" font-size="7.7" fill="#2e2e2e" stroke="none">Y: 77.2</text><rect x="24.3" y="421.3" width="5.4" height="5.4" fill="#000" stroke="#e8e4b0" stroke-width="0.5"/><rect x="116.6" y="451.3" width="34.8" height="25.5" fill="#fdfdee" stroke="#d6d6c6" stroke-width="0.6"/><text transform="translate(119.2,462.8) scale(1,1.1)" style="font-family:'Liberation Sans', sans-serif" font-size="7.7" fill="#2e2e2e" stroke="none">X: 83</text><text transform="translate(119.2,472.9) scale(1,1.1)" style="font-family:'Liberation Sans', sans-serif" font-size="7.7" fill="#2e2e2e" stroke="none">Y: 51.08</text><rect x="109.75" y="444.6" width="5.4" height="5.4" fill="#000" stroke="#e8e4b0" stroke-width="0.5"/></g><g><line x1="286.08" y1="5.55" x2="286.08" y2="94.75" stroke="#e3e3e3" stroke-width="0.7"/><line x1="325.44" y1="5.55" x2="325.44" y2="94.75" stroke="#e3e3e3" stroke-width="0.7"/><line x1="364.79" y1="5.55" x2="364.79" y2="94.75" stroke="#e3e3e3" stroke-width="0.7"/><line x1="404.15" y1="5.55" x2="404.15" y2="94.75" stroke="#e3e3e3" stroke-width="0.7"/><line x1="254.6" y1="76.91" x2="443.5" y2="76.91" stroke="#e3e3e3" stroke-width="0.7"/><line x1="254.6" y1="59.07" x2="443.5" y2="59.07" stroke="#e3e3e3" stroke-width="0.7"/><line x1="254.6" y1="41.23" x2="443.5" y2="41.23" stroke="#e3e3e3" stroke-width="0.7"/><line x1="254.6" y1="23.39" x2="443.5" y2="23.39" stroke="#e3e3e3" stroke-width="0.7"/><clipPath id="ce"><rect x="254.6" y="5.55" width="188.9" height="89.2"/></clipPath><path d="M254.25,26.38 L258.25,27 L259.5,27.62 L292,27.62 L294.5,27 L296.5,25.75 L297.25,25.12 L298.25,26.38 L299.5,26 L300.75,27 L302,27 L302.5,22.62 L303,20.75 L303.75,20.12 L304.25,22 L305,20.75 L305.75,18.25 L306.5,17.62 L307,19.5 L307.75,18.25 L308.5,16.75 L309.25,14.5 L312,14.5 L312.5,17 L313.25,14.5 L315.75,14.5 L316.75,15.75 L317,14.5 L317.5,25.75 L318.5,26.38 L319.75,27 L320.5,25.75 L321.5,27 L322.25,25.12 L323,26.38 L324,26.38 L324.75,25.12 L325.5,25.75 L326.25,25.12 L327.25,24.5 L328,25.12 L328.75,26.38 L329.5,27.62 L331,27.62 L333.5,27.62 L336,27.62 L336.62,28.25 L337,39.5 L339.12,40.12 L340.38,40.12 L341,37 L341.5,23.88 L342,23.25 L342.5,24.5 L343.5,25.12 L344.75,25.12 L345.5,27 L346,27.62 L346.75,26.38 L347.75,25.75 L348.75,25.75 L349.75,25.12 L350.75,25.12 L351.5,25.75 L352,26.38 L352.5,15.75 L353,25.75 L353.5,25.75 L354.25,25.75 L355,25.12 L356,25.75 L356.75,24.5 L357.25,18.25 L358,14.5 L358.75,14.5 L359.25,15.12 L359.5,20.12 L360,17 L360.5,15.75 L360.75,22.62 L361.25,14.5 L362,15.75 L362.75,14.5 L363.5,14.5 L365.5,14.5 L366,15.75 L366.75,14.5 L367.75,15.75 L368.5,17 L369.25,15.12 L370,15.12 L370.75,17.62 L371.5,16.38 L372.25,15.75 L373,15.12 L373.5,14.5 L380,14.5 L390,14.5 L390.75,15.5 L391.5,14.5 L427.5,14.5 L428.75,17 L429.75,18.88 L430.5,17 L431.25,15.75 L432.5,15.12 L433.75,15.75 L434.5,17 L435,17.62 L435.5,25.12 L436.25,25.75 L437.5,25.12 L438.75,25.5 L440,25.75 L441.25,25.75 L442.5,26.38 L446,28.25" fill="none" stroke="#ff00ff" stroke-width="1.2" stroke-linejoin="round" clip-path="url(#ce)"/><path d="M254.25,22.25 L259.5,21.38 L264.5,20.5 L270.75,19.5 L277,18.5 L283.25,17.62 L289.5,16.75 L294.5,16.12 L299.5,16 L302,16.38 L305.75,17.25 L309.5,17.62 L313.25,17.62 L316,18.25 L321,18.5 L326,18.88 L331,18.88 L333.5,17 L336.62,14.5 L341,14.25 L348.5,14.5 L353.5,15.12 L358.5,15.75 L363.5,18.25 L368.5,18.88 L374.75,19.25 L380,19.5 L387.5,19.88 L395,20.38 L405,20.75 L412.5,21 L420,21.62 L427.5,21.75 L432.5,22.25 L437.5,22.62 L446,23" fill="none" stroke="#0000ff" stroke-width="1.1" stroke-linejoin="round" clip-path="url(#ce)"/><line x1="286.08" y1="94.75" x2="286.08" y2="92.75" stroke="#4d4d4d" stroke-width="0.6"/><line x1="286.08" y1="5.55" x2="286.08" y2="7.55" stroke="#4d4d4d" stroke-width="0.6"/><line x1="325.44" y1="94.75" x2="325.44" y2="92.75" stroke="#4d4d4d" stroke-width="0.6"/><line x1="325.44" y1="5.55" x2="325.44" y2="7.55" stroke="#4d4d4d" stroke-width="0.6"/><line x1="364.79" y1="94.75" x2="364.79" y2="92.75" stroke="#4d4d4d" stroke-width="0.6"/><line x1="364.79" y1="5.55" x2="364.79" y2="7.55" stroke="#4d4d4d" stroke-width="0.6"/><line x1="404.15" y1="94.75" x2="404.15" y2="92.75" stroke="#4d4d4d" stroke-width="0.6"/><line x1="404.15" y1="5.55" x2="404.15" y2="7.55" stroke="#4d4d4d" stroke-width="0.6"/><line x1="443.5" y1="94.75" x2="443.5" y2="92.75" stroke="#4d4d4d" stroke-width="0.6"/><line x1="443.5" y1="5.55" x2="443.5" y2="7.55" stroke="#4d4d4d" stroke-width="0.6"/><line x1="254.6" y1="94.75" x2="256.6" y2="94.75" stroke="#4d4d4d" stroke-width="0.6"/><line x1="443.5" y1="94.75" x2="441.5" y2="94.75" stroke="#4d4d4d" stroke-width="0.6"/><line x1="254.6" y1="76.91" x2="256.6" y2="76.91" stroke="#4d4d4d" stroke-width="0.6"/><line x1="443.5" y1="76.91" x2="441.5" y2="76.91" stroke="#4d4d4d" stroke-width="0.6"/><line x1="254.6" y1="59.07" x2="256.6" y2="59.07" stroke="#4d4d4d" stroke-width="0.6"/><line x1="443.5" y1="59.07" x2="441.5" y2="59.07" stroke="#4d4d4d" stroke-width="0.6"/><line x1="254.6" y1="41.23" x2="256.6" y2="41.23" stroke="#4d4d4d" stroke-width="0.6"/><line x1="443.5" y1="41.23" x2="441.5" y2="41.23" stroke="#4d4d4d" stroke-width="0.6"/><line x1="254.6" y1="23.39" x2="256.6" y2="23.39" stroke="#4d4d4d" stroke-width="0.6"/><line x1="443.5" y1="23.39" x2="441.5" y2="23.39" stroke="#4d4d4d" stroke-width="0.6"/><line x1="254.6" y1="5.55" x2="256.6" y2="5.55" stroke="#4d4d4d" stroke-width="0.6"/><line x1="443.5" y1="5.55" x2="441.5" y2="5.55" stroke="#4d4d4d" stroke-width="0.6"/><rect x="254.6" y="5.55" width="188.9" height="89.2" fill="none" stroke="#4d4d4d" stroke-width="0.9"/><text transform="translate(286.08,105.95) scale(1,1.1)" font-size="7.3" text-anchor="middle">100</text><text transform="translate(325.44,105.95) scale(1,1.1)" font-size="7.3" text-anchor="middle">105</text><text transform="translate(364.79,105.95) scale(1,1.1)" font-size="7.3" text-anchor="middle">110</text><text transform="translate(404.15,105.95) scale(1,1.1)" font-size="7.3" text-anchor="middle">115</text><text transform="translate(443.5,105.95) scale(1,1.1)" font-size="7.3" text-anchor="middle">120</text><text transform="translate(251.4,98.15) scale(1,1.1)" font-size="7.3" text-anchor="end">0</text><text transform="translate(251.4,80.31) scale(1,1.1)" font-size="7.3" text-anchor="end">20</text><text transform="translate(251.4,62.47) scale(1,1.1)" font-size="7.3" text-anchor="end">40</text><text transform="translate(251.4,44.63) scale(1,1.1)" font-size="7.3" text-anchor="end">60</text><text transform="translate(251.4,26.79) scale(1,1.1)" font-size="7.3" text-anchor="end">80</text><text transform="translate(251.4,8.95) scale(1,1.1)" font-size="7.3" text-anchor="end">100</text><text transform="translate(343.9,116.6) scale(1,1.12)" font-size="9" text-anchor="middle">Time (hours)</text><text transform="translate(346.2,128.1) scale(1,1.1)" font-size="7.7" font-weight="bold" text-anchor="middle">(e)</text><text transform="translate(233.5,49) rotate(-90)" font-size="9.1" text-anchor="middle">SOC(%)</text><rect x="254.6" y="80.55" width="95.0" height="14.2" fill="#fff" stroke="#4d4d4d" stroke-width="0.9"/><line x1="257.17" y1="87.35" x2="274.79" y2="87.35" stroke="#0000ff" stroke-width="1"/><text transform="translate(276.87,89.35) scale(1,1.1)" font-size="7.4">SOC<tspan font-size="6.1" dy="3.4" stroke="none">SC</tspan></text><line x1="302.2" y1="87.35" x2="319.91" y2="87.35" stroke="#ff00ff" stroke-width="1"/><text transform="translate(321.99,89.35) scale(1,1.1)" font-size="7.4">SOC<tspan font-size="6.1" dy="3.4" stroke="none">Batt</tspan></text><rect x="259.4" y="26.1" width="34.2" height="25.8" fill="#fdfdee" stroke="#d6d6c6" stroke-width="0.6"/><text transform="translate(262,37.6) scale(1,1.1)" style="font-family:'Liberation Sans', sans-serif" font-size="7.7" fill="#2e2e2e" stroke="none">X: 96.11</text><text transform="translate(262,47.7) scale(1,1.1)" style="font-family:'Liberation Sans', sans-serif" font-size="7.7" fill="#2e2e2e" stroke="none">Y: 81.26</text><rect x="252.9" y="19.7" width="5.4" height="5.4" fill="#000" stroke="#e8e4b0" stroke-width="0.5"/><rect x="340.7" y="44.3" width="34.2" height="25.5" fill="#fdfdee" stroke="#d6d6c6" stroke-width="0.6"/><text transform="translate(343.3,55.8) scale(1,1.1)" style="font-family:'Liberation Sans', sans-serif" font-size="7.7" fill="#2e2e2e" stroke="none">X: 106.5</text><text transform="translate(343.3,65.9) scale(1,1.1)" style="font-family:'Liberation Sans', sans-serif" font-size="7.7" fill="#2e2e2e" stroke="none">Y: 61.17</text><rect x="334.15" y="37.65" width="5.4" height="5.4" fill="#000" stroke="#e8e4b0" stroke-width="0.5"/></g><g><line x1="293.96" y1="137.5" x2="293.96" y2="226.9" stroke="#e3e3e3" stroke-width="0.7"/><line x1="333.42" y1="137.5" x2="333.42" y2="226.9" stroke="#e3e3e3" stroke-width="0.7"/><line x1="372.88" y1="137.5" x2="372.88" y2="226.9" stroke="#e3e3e3" stroke-width="0.7"/><line x1="412.33" y1="137.5" x2="412.33" y2="226.9" stroke="#e3e3e3" stroke-width="0.7"/><line x1="254.5" y1="209.02" x2="443.9" y2="209.02" stroke="#e3e3e3" stroke-width="0.7"/><line x1="254.5" y1="191.14" x2="443.9" y2="191.14" stroke="#e3e3e3" stroke-width="0.7"/><line x1="254.5" y1="173.26" x2="443.9" y2="173.26" stroke="#e3e3e3" stroke-width="0.7"/><line x1="254.5" y1="155.38" x2="443.9" y2="155.38" stroke="#e3e3e3" stroke-width="0.7"/><clipPath id="cf"><rect x="254.5" y="137.5" width="189.4" height="89.4"/></clipPath><path d="M254.25,159.62 L255,159 L255.75,158.38 L256.5,159.62 L257.25,157.75 L258,158.38 L258.75,157.5 L259.5,158.75 L260.25,157.75 L261,159 L261.75,157.12 L262.5,158.38 L263.25,157.75 L264,156.25 L264.75,158.38 L265.5,157.75 L266.25,159 L267,157.75 L267.75,158.38 L268.5,157.12 L269.25,159 L270,158.38 L270.75,159 L271.5,157.75 L272.25,158.38 L272.75,156.25 L273.5,156.25 L274.25,155.88 L275.25,156.5 L276,157.12 L276.75,156.25 L277.5,157.75 L278.25,157.12 L279,156.5 L279.75,157.75 L280.5,156.5 L281.5,157.12 L283.25,156.25 L285.75,156.5 L288.25,157.12 L290.75,156.25 L293.25,156.75 L295.75,156.25 L298.25,156.5 L300.75,156.5 L301.5,152.12 L302,149 L303.25,148.75 L304.5,149.62 L305.75,149 L307,148.38 L308.25,147.75 L309.5,147.75 L309.75,146.25 L314.5,146.25 L317,146.25 L317,146.25 L317.25,156.5 L318.5,156.75 L321,156.5 L322.25,157.12 L323.5,159 L326,159.62 L331,159.62 L337.25,159.62 L338.5,159.62 L338.75,171.5 L340.38,174 L341,171.5 L341.25,157.75 L341.75,156.5 L342.5,155.88 L343.25,156.5 L343.75,157.75 L344.75,157.75 L346,159 L348.5,159.62 L351,159 L352.25,159 L353,157.12 L353.75,156.25 L354.5,157.12 L355.25,157.75 L355.75,159 L356.5,157.12 L357.25,155.88 L358.5,154 L359.75,152.75 L361,151.5 L362.25,150.25 L363.5,149.62 L364.25,152.12 L364.75,154 L365.5,155.25 L366.25,154 L367,152.12 L367.75,150.25 L368.5,149.62 L369.75,148.38 L371,147.5 L372.25,146.5 L373.5,147.75 L374.75,147.12 L376.5,146.25 L380,146.25 L427.5,146.25 L428.25,148.38 L429,149 L430,148.38 L431.25,148.75 L432.5,147.5 L433.75,148.38 L435,149 L435.75,149 L436,156.5 L437.5,156.75 L438.75,157.5 L440,156.75 L441.25,156.5 L442.5,157.12 L446,157.12" fill="none" stroke="#ff00ff" stroke-width="1.2" stroke-linejoin="round" clip-path="url(#cf)"/><path d="M254.25,154.25 L259.5,154.62 L267,155 L274.5,155.5 L282,155.88 L289.5,156.25 L297,156.5 L302,157.12 L307,157.5 L312,157.75 L318,158 L318,158.5 L323.5,158.75 L326,158.38 L328.5,157.12 L332.25,154 L336,149.62 L338.5,146.5 L342.25,146.5 L348.5,146.5 L353.5,146.75 L358.5,147.12 L363.5,147.5 L368.5,148 L373.5,148.75 L378.5,149.25 L380,149 L387.5,149.25 L395.62,149.38 L396.88,151.5 L405,152.12 L415,152.75 L422.5,153 L430,153.38 L437.5,153.38 L446,153.38" fill="none" stroke="#0000ff" stroke-width="1.1" stroke-linejoin="round" clip-path="url(#cf)"/><line x1="254.5" y1="226.9" x2="254.5" y2="224.9" stroke="#4d4d4d" stroke-width="0.6"/><line x1="254.5" y1="137.5" x2="254.5" y2="139.5" stroke="#4d4d4d" stroke-width="0.6"/><line x1="293.96" y1="226.9" x2="293.96" y2="224.9" stroke="#4d4d4d" stroke-width="0.6"/><line x1="293.96" y1="137.5" x2="293.96" y2="139.5" stroke="#4d4d4d" stroke-width="0.6"/><line x1="333.42" y1="226.9" x2="333.42" y2="224.9" stroke="#4d4d4d" stroke-width="0.6"/><line x1="333.42" y1="137.5" x2="333.42" y2="139.5" stroke="#4d4d4d" stroke-width="0.6"/><line x1="372.88" y1="226.9" x2="372.88" y2="224.9" stroke="#4d4d4d" stroke-width="0.6"/><line x1="372.88" y1="137.5" x2="372.88" y2="139.5" stroke="#4d4d4d" stroke-width="0.6"/><line x1="412.33" y1="226.9" x2="412.33" y2="224.9" stroke="#4d4d4d" stroke-width="0.6"/><line x1="412.33" y1="137.5" x2="412.33" y2="139.5" stroke="#4d4d4d" stroke-width="0.6"/><line x1="254.5" y1="226.9" x2="256.5" y2="226.9" stroke="#4d4d4d" stroke-width="0.6"/><line x1="443.9" y1="226.9" x2="441.9" y2="226.9" stroke="#4d4d4d" stroke-width="0.6"/><line x1="254.5" y1="209.02" x2="256.5" y2="209.02" stroke="#4d4d4d" stroke-width="0.6"/><line x1="443.9" y1="209.02" x2="441.9" y2="209.02" stroke="#4d4d4d" stroke-width="0.6"/><line x1="254.5" y1="191.14" x2="256.5" y2="191.14" stroke="#4d4d4d" stroke-width="0.6"/><line x1="443.9" y1="191.14" x2="441.9" y2="191.14" stroke="#4d4d4d" stroke-width="0.6"/><line x1="254.5" y1="173.26" x2="256.5" y2="173.26" stroke="#4d4d4d" stroke-width="0.6"/><line x1="443.9" y1="173.26" x2="441.9" y2="173.26" stroke="#4d4d4d" stroke-width="0.6"/><line x1="254.5" y1="155.38" x2="256.5" y2="155.38" stroke="#4d4d4d" stroke-width="0.6"/><line x1="443.9" y1="155.38" x2="441.9" y2="155.38" stroke="#4d4d4d" stroke-width="0.6"/><line x1="254.5" y1="137.5" x2="256.5" y2="137.5" stroke="#4d4d4d" stroke-width="0.6"/><line x1="443.9" y1="137.5" x2="441.9" y2="137.5" stroke="#4d4d4d" stroke-width="0.6"/><rect x="254.5" y="137.5" width="189.4" height="89.4" fill="none" stroke="#4d4d4d" stroke-width="0.9"/><text transform="translate(254.5,238.1) scale(1,1.1)" font-size="7.3" text-anchor="middle">120</text><text transform="translate(293.96,238.1) scale(1,1.1)" font-size="7.3" text-anchor="middle">125</text><text transform="translate(333.42,238.1) scale(1,1.1)" font-size="7.3" text-anchor="middle">130</text><text transform="translate(372.88,238.1) scale(1,1.1)" font-size="7.3" text-anchor="middle">135</text><text transform="translate(412.33,238.1) scale(1,1.1)" font-size="7.3" text-anchor="middle">140</text><text transform="translate(251.3,230.3) scale(1,1.1)" font-size="7.3" text-anchor="end">0</text><text transform="translate(251.3,212.42) scale(1,1.1)" font-size="7.3" text-anchor="end">20</text><text transform="translate(251.3,194.54) scale(1,1.1)" font-size="7.3" text-anchor="end">40</text><text transform="translate(251.3,176.66) scale(1,1.1)" font-size="7.3" text-anchor="end">60</text><text transform="translate(251.3,158.78) scale(1,1.1)" font-size="7.3" text-anchor="end">80</text><text transform="translate(251.3,140.9) scale(1,1.1)" font-size="7.3" text-anchor="end">100</text><text transform="translate(355.5,248.9) scale(1,1.12)" font-size="9" text-anchor="middle">Time (hours)</text><text transform="translate(346.7,260.1) scale(1,1.1)" font-size="7.3" font-weight="normal" text-anchor="middle">(f)</text><text transform="translate(232,177.5) rotate(-90)" font-size="9.1" text-anchor="middle">SOC(%)</text><rect x="254.5" y="212.7" width="95.0" height="14.2" fill="#fff" stroke="#4d4d4d" stroke-width="0.9"/><line x1="257.07" y1="219.5" x2="274.69" y2="219.5" stroke="#0000ff" stroke-width="1"/><text transform="translate(276.77,221.5) scale(1,1.1)" font-size="7.4">SOC<tspan font-size="6.1" dy="3.4" stroke="none">SC</tspan></text><line x1="302.1" y1="219.5" x2="319.81" y2="219.5" stroke="#ff00ff" stroke-width="1"/><text transform="translate(321.89,221.5) scale(1,1.1)" font-size="7.4">SOC<tspan font-size="6.1" dy="3.4" stroke="none">Batt</tspan></text><rect x="270.4" y="161.5" width="34.2" height="25.9" fill="#fdfdee" stroke="#d6d6c6" stroke-width="0.6"/><text transform="translate(273,173) scale(1,1.1)" style="font-family:'Liberation Sans', sans-serif" font-size="7.7" fill="#2e2e2e" stroke="none">X: 126.9</text><text transform="translate(273,183.1) scale(1,1.1)" style="font-family:'Liberation Sans', sans-serif" font-size="7.7" fill="#2e2e2e" stroke="none">Y: 77.57</text><rect x="305.85" y="154.85" width="5.4" height="5.4" fill="#000" stroke="#e8e4b0" stroke-width="0.5"/><rect x="344.3" y="180.2" width="34.2" height="25.6" fill="#fdfdee" stroke="#d6d6c6" stroke-width="0.6"/><text transform="translate(346.9,191.7) scale(1,1.1)" style="font-family:'Liberation Sans', sans-serif" font-size="7.7" fill="#2e2e2e" stroke="none">X: 130.9</text><text transform="translate(346.9,201.8) scale(1,1.1)" style="font-family:'Liberation Sans', sans-serif" font-size="7.7" fill="#2e2e2e" stroke="none">Y: 56.92</text><rect x="337.7" y="173.3" width="5.4" height="5.4" fill="#000" stroke="#e8e4b0" stroke-width="0.5"/></g><g><line x1="262.47" y1="269.6" x2="262.47" y2="358.85" stroke="#e3e3e3" stroke-width="0.7"/><line x1="301.82" y1="269.6" x2="301.82" y2="358.85" stroke="#e3e3e3" stroke-width="0.7"/><line x1="341.18" y1="269.6" x2="341.18" y2="358.85" stroke="#e3e3e3" stroke-width="0.7"/><line x1="380.53" y1="269.6" x2="380.53" y2="358.85" stroke="#e3e3e3" stroke-width="0.7"/><line x1="419.89" y1="269.6" x2="419.89" y2="358.85" stroke="#e3e3e3" stroke-width="0.7"/><line x1="254.6" y1="341" x2="443.5" y2="341" stroke="#e3e3e3" stroke-width="0.7"/><line x1="254.6" y1="323.15" x2="443.5" y2="323.15" stroke="#e3e3e3" stroke-width="0.7"/><line x1="254.6" y1="305.3" x2="443.5" y2="305.3" stroke="#e3e3e3" stroke-width="0.7"/><line x1="254.6" y1="287.45" x2="443.5" y2="287.45" stroke="#e3e3e3" stroke-width="0.7"/><clipPath id="cg"><rect x="254.6" y="269.6" width="188.9" height="89.25"/></clipPath><path d="M254.25,287.88 L259.5,287.88 L263.88,287.25 L265.75,288.5 L268.25,289.12 L272,288.75 L275.75,289.12 L279.5,288.5 L284.5,288.75 L289.5,288.5 L294.5,288.5 L298.25,288.75 L300.75,289.12 L301.75,287.88 L302.25,282 L304.5,281 L307,280.75 L309.25,279.75 L309.75,278.5 L314.5,278.5 L317,278.5 L317.25,278.25 L317.5,287.88 L321,288.25 L323,288.5 L323.5,291 L324.75,291.62 L328.5,291.62 L333.5,291.62 L338.5,291.62 L339.25,292.25 L339.75,307.25 L340.5,307.25 L341,293.5 L341.5,279.75 L342,278.5 L343.5,278.5 L344,283.5 L344.75,279.12 L346,278.5 L347,278.5 L347.75,281 L348,291 L349,291.62 L351,291.62 L352.25,290.38 L353.5,288.5 L354.12,291 L355.5,291.62 L356,291.62 L356.62,291.62 L356.88,278.5 L357.12,291.62 L358.5,291.62 L358.75,278.5 L359,291.62 L359.75,291.62 L361,291.62 L361.75,289.75 L362.5,288.5 L363.5,289.12 L364.25,288.5 L365,291 L366,291.62 L368,291.62 L369.75,289.75 L372.25,287.25 L374.75,284.75 L377.25,282.88 L379.75,280.38 L380,279.75 L382.5,279.12 L385,278.25 L405,278.25 L426.25,278.25 L428.12,278.5 L430,279.75 L431.5,281.25 L432.5,281 L433.75,280 L435,279.12 L435.5,287.88 L436.88,288.5 L438.12,289.12 L439.38,287.88 L441.25,287.5 L446,287.5" fill="none" stroke="#ff00ff" stroke-width="1.2" stroke-linejoin="round" clip-path="url(#cg)"/><path d="M254.25,285.75 L264.5,285.75 L277,286 L289.5,286.25 L302,286.25 L308.25,286.62 L317,287 L316,287.25 L321,287.5 L326,287.25 L329.75,286.25 L332.88,284.75 L335.38,282.88 L337.25,280.38 L339.12,278.5 L341,278.25 L346,278.5 L351,279.12 L356,279.12 L359.75,279.75 L363.5,280 L367.25,279.5 L371,280 L376,280.38 L381,280 L380,280.38 L387.5,281 L395,281.38 L405,281.62 L415,281.88 L425,282 L432.5,282 L437.5,282.25 L446,282.25" fill="none" stroke="#0000ff" stroke-width="1.1" stroke-linejoin="round" clip-path="url(#cg)"/><line x1="262.47" y1="358.85" x2="262.47" y2="356.85" stroke="#4d4d4d" stroke-width="0.6"/><line x1="262.47" y1="269.6" x2="262.47" y2="271.6" stroke="#4d4d4d" stroke-width="0.6"/><line x1="301.82" y1="358.85" x2="301.82" y2="356.85" stroke="#4d4d4d" stroke-width="0.6"/><line x1="301.82" y1="269.6" x2="301.82" y2="271.6" stroke="#4d4d4d" stroke-width="0.6"/><line x1="341.18" y1="358.85" x2="341.18" y2="356.85" stroke="#4d4d4d" stroke-width="0.6"/><line x1="341.18" y1="269.6" x2="341.18" y2="271.6" stroke="#4d4d4d" stroke-width="0.6"/><line x1="380.53" y1="358.85" x2="380.53" y2="356.85" stroke="#4d4d4d" stroke-width="0.6"/><line x1="380.53" y1="269.6" x2="380.53" y2="271.6" stroke="#4d4d4d" stroke-width="0.6"/><line x1="419.89" y1="358.85" x2="419.89" y2="356.85" stroke="#4d4d4d" stroke-width="0.6"/><line x1="419.89" y1="269.6" x2="419.89" y2="271.6" stroke="#4d4d4d" stroke-width="0.6"/><line x1="254.6" y1="358.85" x2="256.6" y2="358.85" stroke="#4d4d4d" stroke-width="0.6"/><line x1="443.5" y1="358.85" x2="441.5" y2="358.85" stroke="#4d4d4d" stroke-width="0.6"/><line x1="254.6" y1="341" x2="256.6" y2="341" stroke="#4d4d4d" stroke-width="0.6"/><line x1="443.5" y1="341" x2="441.5" y2="341" stroke="#4d4d4d" stroke-width="0.6"/><line x1="254.6" y1="323.15" x2="256.6" y2="323.15" stroke="#4d4d4d" stroke-width="0.6"/><line x1="443.5" y1="323.15" x2="441.5" y2="323.15" stroke="#4d4d4d" stroke-width="0.6"/><line x1="254.6" y1="305.3" x2="256.6" y2="305.3" stroke="#4d4d4d" stroke-width="0.6"/><line x1="443.5" y1="305.3" x2="441.5" y2="305.3" stroke="#4d4d4d" stroke-width="0.6"/><line x1="254.6" y1="287.45" x2="256.6" y2="287.45" stroke="#4d4d4d" stroke-width="0.6"/><line x1="443.5" y1="287.45" x2="441.5" y2="287.45" stroke="#4d4d4d" stroke-width="0.6"/><line x1="254.6" y1="269.6" x2="256.6" y2="269.6" stroke="#4d4d4d" stroke-width="0.6"/><line x1="443.5" y1="269.6" x2="441.5" y2="269.6" stroke="#4d4d4d" stroke-width="0.6"/><rect x="254.6" y="269.6" width="188.9" height="89.25" fill="none" stroke="#4d4d4d" stroke-width="0.9"/><text transform="translate(262.47,370.05) scale(1,1.1)" font-size="7.3" text-anchor="middle">145</text><text transform="translate(301.82,370.05) scale(1,1.1)" font-size="7.3" text-anchor="middle">150</text><text transform="translate(341.18,370.05) scale(1,1.1)" font-size="7.3" text-anchor="middle">155</text><text transform="translate(380.53,370.05) scale(1,1.1)" font-size="7.3" text-anchor="middle">160</text><text transform="translate(419.89,370.05) scale(1,1.1)" font-size="7.3" text-anchor="middle">165</text><text transform="translate(251.4,362.25) scale(1,1.1)" font-size="7.3" text-anchor="end">0</text><text transform="translate(251.4,344.4) scale(1,1.1)" font-size="7.3" text-anchor="end">20</text><text transform="translate(251.4,326.55) scale(1,1.1)" font-size="7.3" text-anchor="end">40</text><text transform="translate(251.4,308.7) scale(1,1.1)" font-size="7.3" text-anchor="end">60</text><text transform="translate(251.4,290.85) scale(1,1.1)" font-size="7.3" text-anchor="end">80</text><text transform="translate(251.4,273) scale(1,1.1)" font-size="7.3" text-anchor="end">100</text><text transform="translate(342.8,380.6) scale(1,1.12)" font-size="9" text-anchor="middle">Time (hours)</text><text transform="translate(346,392.1) scale(1,1.1)" font-size="7.3" font-weight="normal" text-anchor="middle">(g)</text><text transform="translate(233.1,309) rotate(-90)" font-size="9.1" text-anchor="middle">SOC(%)</text><rect x="254.6" y="344.65" width="95.0" height="14.2" fill="#fff" stroke="#4d4d4d" stroke-width="0.9"/><line x1="257.17" y1="351.45" x2="274.79" y2="351.45" stroke="#0000ff" stroke-width="1"/><text transform="translate(276.87,353.45) scale(1,1.1)" font-size="7.4">SOC<tspan font-size="6.1" dy="3.4" stroke="none">SC</tspan></text><line x1="302.2" y1="351.45" x2="319.91" y2="351.45" stroke="#ff00ff" stroke-width="1"/><text transform="translate(321.99,353.45) scale(1,1.1)" font-size="7.4">SOC<tspan font-size="6.1" dy="3.4" stroke="none">Batt</tspan></text><rect x="264.6" y="289.8" width="33.5" height="25.6" fill="#fdfdee" stroke="#d6d6c6" stroke-width="0.6"/><text transform="translate(267.2,301.3) scale(1,1.1)" style="font-family:'Liberation Sans', sans-serif" font-size="7.7" fill="#2e2e2e" stroke="none">X: 144.8</text><text transform="translate(267.2,311.4) scale(1,1.1)" style="font-family:'Liberation Sans', sans-serif" font-size="7.7" fill="#2e2e2e" stroke="none">Y: 81.86</text><rect x="258.05" y="282.9" width="5.4" height="5.4" fill="#000" stroke="#e8e4b0" stroke-width="0.5"/><rect x="302.1" y="316.2" width="34.2" height="25.2" fill="#fdfdee" stroke="#d6d6c6" stroke-width="0.6"/><text transform="translate(304.7,327.7) scale(1,1.1)" style="font-family:'Liberation Sans', sans-serif" font-size="7.7" fill="#2e2e2e" stroke="none">X: 154.9</text><text transform="translate(304.7,337.8) scale(1,1.1)" style="font-family:'Liberation Sans', sans-serif" font-size="7.7" fill="#2e2e2e" stroke="none">Y: 52.66</text><rect x="337.7" y="309.2" width="5.4" height="5.4" fill="#000" stroke="#e8e4b0" stroke-width="0.5"/></g><g><line x1="268.97" y1="401.9" x2="268.97" y2="491.1" stroke="#e3e3e3" stroke-width="0.7"/><line x1="309.88" y1="401.9" x2="309.88" y2="491.1" stroke="#e3e3e3" stroke-width="0.7"/><line x1="350.8" y1="401.9" x2="350.8" y2="491.1" stroke="#e3e3e3" stroke-width="0.7"/><line x1="391.72" y1="401.9" x2="391.72" y2="491.1" stroke="#e3e3e3" stroke-width="0.7"/><line x1="432.63" y1="401.9" x2="432.63" y2="491.1" stroke="#e3e3e3" stroke-width="0.7"/><line x1="252.6" y1="446.5" x2="449" y2="446.5" stroke="#e3e3e3" stroke-width="0.7"/><clipPath id="ch"><rect x="252.6" y="401.9" width="196.4" height="89.2"/></clipPath><path d="M252.5,420.25 L255,420.5 L257.5,420.5 L258.75,421.12 L260,421.12 L261.25,420.5 L263.75,420.25 L266.25,420.5 L268.75,420.75 L270,421.75 L271.25,421.12 L272.5,420.75 L273.75,421.12 L275,421.5 L276.25,420.75 L277.5,421.12 L278.75,420.5 L280,421.12 L281.25,421.75 L282.5,420.5 L283.75,419.88 L286.25,419.88 L288.75,419.88 L291.25,420.5 L292.5,422.38 L293.75,421.5 L295,420.75 L296.25,421.12 L297.5,420.5 L300,420.5 L301.25,421.12 L301.5,413.62 L305,413.62 L307.5,413.25 L309.38,413 L310,410.5 L313.12,410.5 L314.38,413 L315,410.5 L315.25,410.5 L316.5,414.25 L317.12,410.5 L318,415.5 L318.5,423 L321.5,423.62 L325.25,423.62 L325,423.4 L325.5,434.5 L326.3,421 L327,436 L327.8,421 L328.5,436 L329.3,424 L330,437 L331,423 L332,438 L333,439 L334,440 L335,424 L335.8,440 L337,429 L337.8,441 L340,441 L342.3,440.5 L342.8,423 L344,423 L342.75,424.88 L343.5,423 L345.25,423.62 L346.5,424.88 L347.75,424 L349,424.25 L350.25,424.88 L351.5,424.88 L352.75,424.25 L354,424.25 L354.6,425.02 L355.07,423.27 L355.3,415.39 L355.65,422.1 L356.06,420.93 L356.47,419.18 L356.93,417.43 L357.28,421.52 L357.52,416.85 L357.87,423.27 L358.22,422.69 L358.69,423.27 L359.27,422.69 L359.56,411.59 L359.85,410.42 L361.02,410.72 L362.19,410.42 L363.07,410.89 L363.36,423.27 L363.65,411.59 L364.23,410.72 L364.53,415.68 L364.82,423.27 L365.4,411.01 L365.99,410.42 L366.57,410.72 L366.86,423.27 L367.21,411.59 L368.03,414.22 L368.61,418.01 L368.91,423.27 L369.2,419.18 L369.78,420.35 L370.36,416.85 L370.95,412.76 L371.53,413.05 L372.12,418.01 L372.7,415.68 L373.28,413.34 L373.87,413.93 L374.16,422.1 L374.45,423.27 L375.04,415.09 L375.62,413.34 L376.2,413.34 L376.79,423.27 L377.37,412.18 L377.96,411.01 L378.83,410.42 L380,410.42 L380,410.5 L390.5,410.5 L403,410.5 L415.5,410.5 L431.75,410.5 L433,412.38 L434.25,412.75 L436.75,412.38 L439.25,411.75 L440.5,411.75 L441.12,413.62 L442.38,416.12 L445.5,418.62 L448.62,420.5 L450,421.12" fill="none" stroke="#ff00ff" stroke-width="1.2" stroke-linejoin="round" clip-path="url(#ch)"/><path d="M252.5,414.25 L262.5,414.25 L275,414.5 L287.5,414.88 L300,415.12 L307.5,415.25 L316,415.5 L316,415.75 L317.75,416.12 L320.25,414.25 L322.75,412.38 L325.88,410.5 L332.75,410.5 L339,410.5 L345.25,410.5 L351.5,410.5 L354.6,411 L356,411.5 L357.5,411.5 L359.3,411.1 L361,411.3 L364.5,412.2 L366.9,412.8 L369.2,414.2 L371.5,415.4 L373.9,416.3 L376.2,417.1 L378,417.5 L380,417.5 L380,417.38 L390.5,417.38 L403,417.75 L415.5,418 L428,418.25 L440.5,418.25 L448,418.62 L450,418.62" fill="none" stroke="#0000ff" stroke-width="1.1" stroke-linejoin="round" clip-path="url(#ch)"/><line x1="268.97" y1="491.1" x2="268.97" y2="489.1" stroke="#4d4d4d" stroke-width="0.6"/><line x1="268.97" y1="401.9" x2="268.97" y2="403.9" stroke="#4d4d4d" stroke-width="0.6"/><line x1="309.88" y1="491.1" x2="309.88" y2="489.1" stroke="#4d4d4d" stroke-width="0.6"/><line x1="309.88" y1="401.9" x2="309.88" y2="403.9" stroke="#4d4d4d" stroke-width="0.6"/><line x1="350.8" y1="491.1" x2="350.8" y2="489.1" stroke="#4d4d4d" stroke-width="0.6"/><line x1="350.8" y1="401.9" x2="350.8" y2="403.9" stroke="#4d4d4d" stroke-width="0.6"/><line x1="391.72" y1="491.1" x2="391.72" y2="489.1" stroke="#4d4d4d" stroke-width="0.6"/><line x1="391.72" y1="401.9" x2="391.72" y2="403.9" stroke="#4d4d4d" stroke-width="0.6"/><line x1="432.63" y1="491.1" x2="432.63" y2="489.1" stroke="#4d4d4d" stroke-width="0.6"/><line x1="432.63" y1="401.9" x2="432.63" y2="403.9" stroke="#4d4d4d" stroke-width="0.6"/><line x1="252.6" y1="491.1" x2="254.6" y2="491.1" stroke="#4d4d4d" stroke-width="0.6"/><line x1="449" y1="491.1" x2="447" y2="491.1" stroke="#4d4d4d" stroke-width="0.6"/><line x1="252.6" y1="446.5" x2="254.6" y2="446.5" stroke="#4d4d4d" stroke-width="0.6"/><line x1="449" y1="446.5" x2="447" y2="446.5" stroke="#4d4d4d" stroke-width="0.6"/><line x1="252.6" y1="401.9" x2="254.6" y2="401.9" stroke="#4d4d4d" stroke-width="0.6"/><line x1="449" y1="401.9" x2="447" y2="401.9" stroke="#4d4d4d" stroke-width="0.6"/><rect x="252.6" y="401.9" width="196.4" height="89.2" fill="none" stroke="#4d4d4d" stroke-width="0.9"/><text transform="translate(268.97,502.7) scale(1,1.1)" font-size="7.8" text-anchor="middle">170</text><text transform="translate(309.88,502.7) scale(1,1.1)" font-size="7.8" text-anchor="middle">175</text><text transform="translate(350.8,502.7) scale(1,1.1)" font-size="7.8" text-anchor="middle">180</text><text transform="translate(391.72,502.7) scale(1,1.1)" font-size="7.8" text-anchor="middle">185</text><text transform="translate(432.63,502.7) scale(1,1.1)" font-size="7.8" text-anchor="middle">190</text><text transform="translate(249.4,494.7) scale(1,1.1)" font-size="7.8" text-anchor="end">0</text><text transform="translate(249.4,450.1) scale(1,1.1)" font-size="7.8" text-anchor="end">50</text><text transform="translate(249.4,405.5) scale(1,1.1)" font-size="7.8" text-anchor="end">100</text><text transform="translate(354.65,514.9) scale(1,1.12)" font-size="9" text-anchor="middle">Time (hours)</text><text transform="translate(348.3,526.2) scale(1,1.1)" font-size="7.7" font-weight="bold" text-anchor="middle">(h)</text><text transform="translate(231.6,442.9) rotate(-90)" font-size="10" text-anchor="middle">SOC(%)</text><rect x="252.6" y="475.6" width="96.7" height="15.5" fill="#fff" stroke="#4d4d4d" stroke-width="0.9"/><line x1="255.22" y1="483.7" x2="273.15" y2="483.7" stroke="#0000ff" stroke-width="1"/><text transform="translate(275.26,485.7) scale(1,1.1)" font-size="7.4">SOC<tspan font-size="6.1" dy="3.4" stroke="none">SC</tspan></text><line x1="301.05" y1="483.7" x2="319.08" y2="483.7" stroke="#ff00ff" stroke-width="1"/><text transform="translate(321.2,485.7) scale(1,1.1)" font-size="7.4">SOC<tspan font-size="6.1" dy="3.4" stroke="none">Batt</tspan></text><rect x="340.3" y="445.7" width="35" height="28.1" fill="#fdfdee" stroke="#d6d6c6" stroke-width="0.6"/><text transform="translate(342.9,457.9) scale(1,1.1)" style="font-family:'Liberation Sans', sans-serif" font-size="7.9" fill="#2e2e2e" stroke="none">X: 178.2</text><text transform="translate(342.9,469.2) scale(1,1.1)" style="font-family:'Liberation Sans', sans-serif" font-size="7.9" fill="#2e2e2e" stroke="none">Y: 55.79</text><rect x="333.65" y="438.5" width="5.4" height="5.4" fill="#000" stroke="#e8e4b0" stroke-width="0.5"/><rect x="405.2" y="423.1" width="34.2" height="28.1" fill="#fdfdee" stroke="#d6d6c6" stroke-width="0.6"/><text transform="translate(407.8,435.3) scale(1,1.1)" style="font-family:'Liberation Sans', sans-serif" font-size="7.9" fill="#2e2e2e" stroke="none">X: 191.4</text><text transform="translate(407.8,446.6) scale(1,1.1)" style="font-family:'Liberation Sans', sans-serif" font-size="7.9" fill="#2e2e2e" stroke="none">Y: 81.33</text><rect x="441.15" y="415.75" width="5.4" height="5.4" fill="#000" stroke="#e8e4b0" stroke-width="0.5"/></g><g><line x1="513.64" y1="5.6" x2="513.64" y2="95" stroke="#e3e3e3" stroke-width="0.7"/><line x1="553.05" y1="5.6" x2="553.05" y2="95" stroke="#e3e3e3" stroke-width="0.7"/><line x1="592.46" y1="5.6" x2="592.46" y2="95" stroke="#e3e3e3" stroke-width="0.7"/><line x1="631.86" y1="5.6" x2="631.86" y2="95" stroke="#e3e3e3" stroke-width="0.7"/><line x1="671.27" y1="5.6" x2="671.27" y2="95" stroke="#e3e3e3" stroke-width="0.7"/><line x1="490" y1="77.12" x2="679.15" y2="77.12" stroke="#e3e3e3" stroke-width="0.7"/><line x1="490" y1="59.24" x2="679.15" y2="59.24" stroke="#e3e3e3" stroke-width="0.7"/><line x1="490" y1="41.36" x2="679.15" y2="41.36" stroke="#e3e3e3" stroke-width="0.7"/><line x1="490" y1="23.48" x2="679.15" y2="23.48" stroke="#e3e3e3" stroke-width="0.7"/><clipPath id="ci"><rect x="490" y="5.6" width="189.15" height="89.4"/></clipPath><path d="M490.25,25.12 L491,26.38 L491.75,27.62 L492.5,25.75 L493.25,24.25 L494,27.62 L496.75,27.62 L497.25,25.75 L497.75,27.62 L499.25,27.62 L500,26.38 L500.5,27.62 L504.25,27.62 L505,25.75 L505.75,27.62 L506.75,27.62 L507.5,25.75 L508,27.62 L515.5,27.62 L515.75,25.75 L516.25,27.62 L529.25,27.62 L529.75,26.38 L530.25,27.62 L531.75,27.62 L532.25,26.38 L532.75,27.62 L537.38,27.62 L537.75,22 L538.5,20.75 L539.25,23.25 L540,19.5 L540.5,18.25 L541.25,20.75 L541.75,24.5 L542.5,20.75 L543.25,19.5 L543.75,22 L544.5,20.75 L545.25,14.5 L547.38,14.5 L548,17.62 L548.75,14.5 L550.5,14.5 L552,14.5 L553.25,14.5 L553.5,27.62 L558.25,27.62 L563.88,27.62 L564.25,35.75 L565,37 L565.5,38.25 L566,39.5 L566.75,37.62 L567.25,40.75 L568,39.5 L568.75,42 L569.5,44.5 L570.25,42 L570.75,39.5 L571.5,40.12 L572.25,39.5 L573.25,38.88 L574,39.5 L574.5,40.75 L575.25,44.5 L576,43.25 L576.5,24.5 L577.25,28.25 L577.75,26.38 L578.5,25.12 L579,25.75 L579.75,25.12 L580.5,26.38 L581.25,25.12 L582,25.75 L582.75,25.12 L583.5,25.75 L584.25,26.38 L585,25.12 L585.75,26.38 L586.5,25.75 L587.25,24.5 L588,23.88 L588.5,22 L589,20.75 L589.5,23.88 L590,25.75 L590.5,25.12 L591,23.88 L591.5,25.75 L592,27.62 L592.75,23.88 L593.25,22.62 L594,23.88 L594.5,20.12 L595.25,17.62 L595.75,16.38 L596.5,21.38 L597,20.75 L597.5,17.62 L598,19.5 L598.5,22.62 L599,18.25 L599.5,20.12 L600.25,25.75 L601,27 L601.75,25.75 L602.5,24.5 L603.25,23.25 L603.75,25.12 L604.5,22.62 L605.25,22 L605.75,23.88 L606.5,21.38 L607,22 L607.75,20.75 L608.5,23.88 L609.25,22 L610,22.62 L610.75,20.12 L611.5,19.5 L612.25,21.38 L613.25,20.12 L614,18.88 L614.75,20.12 L615.5,17.62 L616.25,19.5 L617,18.25 L616,17.62 L617,19.5 L617.75,17 L618.5,18.88 L619.25,16.38 L620,19.5 L620.75,17 L621.5,18.88 L622.25,15.75 L623,18.25 L623.75,16.38 L624.5,18.88 L625.25,14.5 L626,17.62 L626.75,19.5 L627.5,18.25 L628.5,17 L629.75,15.12 L631.62,14.25 L641,14.25 L663.25,14.25 L663.75,20.75 L664.5,18.25 L665.25,21.38 L666,17 L667,18.88 L668,17.62 L669,18.25 L669.75,16.38 L670.5,15.12 L671,20.75 L671.5,26.38 L672.5,27.62 L673.5,25.12 L674.75,25.75 L676,26.38 L677.25,27 L682,28.5" fill="none" stroke="#ff00ff" stroke-width="1.2" stroke-linejoin="round" clip-path="url(#ci)"/><path d="M490.25,22.38 L495.5,22 L500.5,22 L505.5,22 L510.5,21.38 L515.5,20.5 L520.5,20.12 L525.5,19.25 L530.5,18.5 L535.5,18 L538,18.25 L541.75,19.25 L545.5,20.5 L549.25,21.38 L552,21.38 L554.5,20.75 L557,18.88 L559.5,16.75 L562,15.12 L563.88,14.25 L570.75,14.25 L577,14.25 L583.25,14.5 L589.5,15.12 L594.5,16 L599.5,16.75 L604.5,17.25 L609.5,18 L614.5,18.25 L616,18.25 L621,19.5 L626,20.12 L629.75,20.75 L631.62,22 L632.88,23.88 L638.5,25.12 L646,26.38 L653.5,27.62 L661,28.5 L668.5,29.5 L674.75,30.5 L682,31" fill="none" stroke="#0000ff" stroke-width="1.1" stroke-linejoin="round" clip-path="url(#ci)"/><line x1="513.64" y1="95" x2="513.64" y2="93" stroke="#4d4d4d" stroke-width="0.6"/><line x1="513.64" y1="5.6" x2="513.64" y2="7.6" stroke="#4d4d4d" stroke-width="0.6"/><line x1="553.05" y1="95" x2="553.05" y2="93" stroke="#4d4d4d" stroke-width="0.6"/><line x1="553.05" y1="5.6" x2="553.05" y2="7.6" stroke="#4d4d4d" stroke-width="0.6"/><line x1="592.46" y1="95" x2="592.46" y2="93" stroke="#4d4d4d" stroke-width="0.6"/><line x1="592.46" y1="5.6" x2="592.46" y2="7.6" stroke="#4d4d4d" stroke-width="0.6"/><line x1="631.86" y1="95" x2="631.86" y2="93" stroke="#4d4d4d" stroke-width="0.6"/><line x1="631.86" y1="5.6" x2="631.86" y2="7.6" stroke="#4d4d4d" stroke-width="0.6"/><line x1="671.27" y1="95" x2="671.27" y2="93" stroke="#4d4d4d" stroke-width="0.6"/><line x1="671.27" y1="5.6" x2="671.27" y2="7.6" stroke="#4d4d4d" stroke-width="0.6"/><line x1="490" y1="95" x2="492" y2="95" stroke="#4d4d4d" stroke-width="0.6"/><line x1="679.15" y1="95" x2="677.15" y2="95" stroke="#4d4d4d" stroke-width="0.6"/><line x1="490" y1="77.12" x2="492" y2="77.12" stroke="#4d4d4d" stroke-width="0.6"/><line x1="679.15" y1="77.12" x2="677.15" y2="77.12" stroke="#4d4d4d" stroke-width="0.6"/><line x1="490" y1="59.24" x2="492" y2="59.24" stroke="#4d4d4d" stroke-width="0.6"/><line x1="679.15" y1="59.24" x2="677.15" y2="59.24" stroke="#4d4d4d" stroke-width="0.6"/><line x1="490" y1="41.36" x2="492" y2="41.36" stroke="#4d4d4d" stroke-width="0.6"/><line x1="679.15" y1="41.36" x2="677.15" y2="41.36" stroke="#4d4d4d" stroke-width="0.6"/><line x1="490" y1="23.48" x2="492" y2="23.48" stroke="#4d4d4d" stroke-width="0.6"/><line x1="679.15" y1="23.48" x2="677.15" y2="23.48" stroke="#4d4d4d" stroke-width="0.6"/><line x1="490" y1="5.6" x2="492" y2="5.6" stroke="#4d4d4d" stroke-width="0.6"/><line x1="679.15" y1="5.6" x2="677.15" y2="5.6" stroke="#4d4d4d" stroke-width="0.6"/><rect x="490" y="5.6" width="189.15" height="89.4" fill="none" stroke="#4d4d4d" stroke-width="0.9"/><text transform="translate(513.64,106.2) scale(1,1.1)" font-size="7.3" text-anchor="middle">195</text><text transform="translate(553.05,106.2) scale(1,1.1)" font-size="7.3" text-anchor="middle">200</text><text transform="translate(592.46,106.2) scale(1,1.1)" font-size="7.3" text-anchor="middle">205</text><text transform="translate(631.86,106.2) scale(1,1.1)" font-size="7.3" text-anchor="middle">210</text><text transform="translate(671.27,106.2) scale(1,1.1)" font-size="7.3" text-anchor="middle">215</text><text transform="translate(486.8,98.4) scale(1,1.1)" font-size="7.3" text-anchor="end">0</text><text transform="translate(486.8,80.52) scale(1,1.1)" font-size="7.3" text-anchor="end">20</text><text transform="translate(486.8,62.64) scale(1,1.1)" font-size="7.3" text-anchor="end">40</text><text transform="translate(486.8,44.76) scale(1,1.1)" font-size="7.3" text-anchor="end">60</text><text transform="translate(486.8,26.88) scale(1,1.1)" font-size="7.3" text-anchor="end">80</text><text transform="translate(486.8,9) scale(1,1.1)" font-size="7.3" text-anchor="end">100</text><text transform="translate(577.6,117.8) scale(1,1.12)" font-size="9" text-anchor="middle">Time (hours)</text><text transform="translate(576.1,128.1) scale(1,1.1)" font-size="6.9" font-weight="normal" text-anchor="middle">(i)</text><text transform="translate(470.6,45.2) rotate(-90)" font-size="9.1" text-anchor="middle">SOC(%)</text><rect x="490" y="80.8" width="94.4" height="14.2" fill="#fff" stroke="#4d4d4d" stroke-width="0.9"/><line x1="492.56" y1="87.6" x2="510.06" y2="87.6" stroke="#0000ff" stroke-width="1"/><text transform="translate(512.12,89.6) scale(1,1.1)" font-size="7.4">SOC<tspan font-size="6.1" dy="3.4" stroke="none">SC</tspan></text><line x1="537.3" y1="87.6" x2="554.9" y2="87.6" stroke="#ff00ff" stroke-width="1"/><text transform="translate(556.97,89.6) scale(1,1.1)" font-size="7.4">SOC<tspan font-size="6.1" dy="3.4" stroke="none">Batt</tspan></text><rect x="579.5" y="48.6" width="34.2" height="26" fill="#fdfdee" stroke="#d6d6c6" stroke-width="0.6"/><text transform="translate(582.1,60.1) scale(1,1.1)" style="font-family:'Liberation Sans', sans-serif" font-size="7.7" fill="#2e2e2e" stroke="none">X: 202.9</text><text transform="translate(582.1,70.2) scale(1,1.1)" style="font-family:'Liberation Sans', sans-serif" font-size="7.7" fill="#2e2e2e" stroke="none">Y: 56.07</text><rect x="572.95" y="42.3" width="5.4" height="5.4" fill="#000" stroke="#e8e4b0" stroke-width="0.5"/><rect x="640.2" y="34.3" width="33.55" height="25.5" fill="#fdfdee" stroke="#d6d6c6" stroke-width="0.6"/><text transform="translate(642.8,45.8) scale(1,1.1)" style="font-family:'Liberation Sans', sans-serif" font-size="7.7" fill="#2e2e2e" stroke="none">X: 215.9</text><text transform="translate(642.8,55.9) scale(1,1.1)" style="font-family:'Liberation Sans', sans-serif" font-size="7.7" fill="#2e2e2e" stroke="none">Y: 72.51</text><rect x="675.15" y="27.25" width="5.4" height="5.4" fill="#000" stroke="#e8e4b0" stroke-width="0.5"/></g><g><line x1="521.24" y1="137.4" x2="521.24" y2="226.75" stroke="#e3e3e3" stroke-width="0.7"/><line x1="560.79" y1="137.4" x2="560.79" y2="226.75" stroke="#e3e3e3" stroke-width="0.7"/><line x1="600.35" y1="137.4" x2="600.35" y2="226.75" stroke="#e3e3e3" stroke-width="0.7"/><line x1="639.9" y1="137.4" x2="639.9" y2="226.75" stroke="#e3e3e3" stroke-width="0.7"/><line x1="489.6" y1="208.88" x2="679.45" y2="208.88" stroke="#e3e3e3" stroke-width="0.7"/><line x1="489.6" y1="191.01" x2="679.45" y2="191.01" stroke="#e3e3e3" stroke-width="0.7"/><line x1="489.6" y1="173.14" x2="679.45" y2="173.14" stroke="#e3e3e3" stroke-width="0.7"/><line x1="489.6" y1="155.27" x2="679.45" y2="155.27" stroke="#e3e3e3" stroke-width="0.7"/><clipPath id="cj"><rect x="489.6" y="137.4" width="189.85" height="89.35"/></clipPath><path d="M490,160 L500.5,159.62 L513,159.62 L525.5,159.62 L536.75,159.62 L537.5,156.5 L538,153.38 L538.75,155.88 L539.5,154.62 L540.25,153.38 L541,155.5 L541.75,154 L542.5,152.75 L543.25,154.62 L544,153.38 L544.5,152.75 L545.25,147.75 L546.25,146.5 L547,147.75 L547.75,149 L548.5,147.12 L549.25,146.5 L550.25,147.75 L551,149.62 L551.75,147.75 L552.5,146.5 L553,147.75 L553.25,146.5 L553.5,159.62 L559.5,159.62 L567,159.62 L567.5,164 L568,166.5 L568.75,169 L569.5,170.25 L570.25,169.62 L571,169 L572,168.38 L573,167.75 L574,167.5 L575.25,167.75 L576,166.5 L576.5,154 L577,157.12 L577.75,159 L578.5,156.5 L579.25,157.12 L580,157.75 L580.75,156.5 L581.5,155.88 L582.25,157.12 L583.25,156.5 L584.25,155.88 L585,152.75 L585.75,151.5 L586.5,152.12 L587.25,150.88 L588,150.25 L588.5,149 L589.25,151.5 L590,150.25 L590.5,154 L591,156.5 L591.5,152.12 L592,150.25 L592.75,151.5 L593.5,149.62 L594.25,149 L595,154.62 L595.5,150.25 L596,149 L596.75,152.12 L597.5,149.62 L598.25,150.88 L599,154.62 L599.5,150.25 L600.25,151.5 L601,154 L601.75,150.88 L602.5,152.12 L603.25,155.88 L604,151.5 L604.75,152.75 L605.5,154.62 L606.25,152.75 L607,158.38 L607.75,154 L608.5,152.75 L609.25,157.12 L610,157.75 L610.75,154.62 L611.5,152.75 L612.25,152.75 L613,155.25 L614,151.5 L615,152.75 L615.75,154.62 L616.5,154 L616,155.25 L616.75,155.88 L617.5,152.75 L618.25,150.88 L619,152.12 L619.75,149.62 L620.5,150.25 L621.25,152.75 L622,149.62 L622.75,151.5 L623.5,157.12 L624.25,152.75 L625,151.5 L625.75,154 L626.5,155.88 L627,156.5 L627.75,157.75 L628.25,152.75 L629,152.12 L629.75,153.38 L630.5,152.12 L631.25,152.75 L632,154.62 L632.5,146.25 L641,146.25 L663.5,146.25 L664.25,151.5 L665,155.25 L665.5,159.62 L666,155.88 L666.75,152.75 L667.75,152.12 L669,152.12 L670,152.75 L671,155.25 L671.5,159.62 L673.5,159.62 L676,159.62 L678.5,159.62 L682,159.62" fill="none" stroke="#ff00ff" stroke-width="1.2" stroke-linejoin="round" clip-path="url(#cj)"/><path d="M490,160.88 L494.25,159.88 L500.5,157.75 L506.75,156.25 L513,154.62 L519.25,153.75 L525.5,152.5 L530.5,150.88 L536.12,149.25 L538,150 L543,150.5 L548,150.88 L553,151.25 L552,151.5 L555.75,150.88 L559.5,149.25 L563.25,147.75 L567,146.25 L572,146.25 L577,146.25 L582,146.75 L587,147.5 L592,148.38 L597,149.25 L602,150 L607,150.88 L612,151.5 L617,152.12 L616,152.12 L621,152.75 L626,153.38 L631,154 L632.25,156.25 L636,157.5 L641,158.38 L648.5,159 L656,159.62 L661,159.62 L663.5,160.5 L666,161.5 L669.75,161.5 L673.5,160.88 L677.25,160 L682,158.75" fill="none" stroke="#0000ff" stroke-width="1.1" stroke-linejoin="round" clip-path="url(#cj)"/><line x1="521.24" y1="226.75" x2="521.24" y2="224.75" stroke="#4d4d4d" stroke-width="0.6"/><line x1="521.24" y1="137.4" x2="521.24" y2="139.4" stroke="#4d4d4d" stroke-width="0.6"/><line x1="560.79" y1="226.75" x2="560.79" y2="224.75" stroke="#4d4d4d" stroke-width="0.6"/><line x1="560.79" y1="137.4" x2="560.79" y2="139.4" stroke="#4d4d4d" stroke-width="0.6"/><line x1="600.35" y1="226.75" x2="600.35" y2="224.75" stroke="#4d4d4d" stroke-width="0.6"/><line x1="600.35" y1="137.4" x2="600.35" y2="139.4" stroke="#4d4d4d" stroke-width="0.6"/><line x1="639.9" y1="226.75" x2="639.9" y2="224.75" stroke="#4d4d4d" stroke-width="0.6"/><line x1="639.9" y1="137.4" x2="639.9" y2="139.4" stroke="#4d4d4d" stroke-width="0.6"/><line x1="679.45" y1="226.75" x2="679.45" y2="224.75" stroke="#4d4d4d" stroke-width="0.6"/><line x1="679.45" y1="137.4" x2="679.45" y2="139.4" stroke="#4d4d4d" stroke-width="0.6"/><line x1="489.6" y1="226.75" x2="491.6" y2="226.75" stroke="#4d4d4d" stroke-width="0.6"/><line x1="679.45" y1="226.75" x2="677.45" y2="226.75" stroke="#4d4d4d" stroke-width="0.6"/><line x1="489.6" y1="208.88" x2="491.6" y2="208.88" stroke="#4d4d4d" stroke-width="0.6"/><line x1="679.45" y1="208.88" x2="677.45" y2="208.88" stroke="#4d4d4d" stroke-width="0.6"/><line x1="489.6" y1="191.01" x2="491.6" y2="191.01" stroke="#4d4d4d" stroke-width="0.6"/><line x1="679.45" y1="191.01" x2="677.45" y2="191.01" stroke="#4d4d4d" stroke-width="0.6"/><line x1="489.6" y1="173.14" x2="491.6" y2="173.14" stroke="#4d4d4d" stroke-width="0.6"/><line x1="679.45" y1="173.14" x2="677.45" y2="173.14" stroke="#4d4d4d" stroke-width="0.6"/><line x1="489.6" y1="155.27" x2="491.6" y2="155.27" stroke="#4d4d4d" stroke-width="0.6"/><line x1="679.45" y1="155.27" x2="677.45" y2="155.27" stroke="#4d4d4d" stroke-width="0.6"/><line x1="489.6" y1="137.4" x2="491.6" y2="137.4" stroke="#4d4d4d" stroke-width="0.6"/><line x1="679.45" y1="137.4" x2="677.45" y2="137.4" stroke="#4d4d4d" stroke-width="0.6"/><rect x="489.6" y="137.4" width="189.85" height="89.35" fill="none" stroke="#4d4d4d" stroke-width="0.9"/><text transform="translate(521.24,237.95) scale(1,1.1)" font-size="7.3" text-anchor="middle">220</text><text transform="translate(560.79,237.95) scale(1,1.1)" font-size="7.3" text-anchor="middle">225</text><text transform="translate(600.35,237.95) scale(1,1.1)" font-size="7.3" text-anchor="middle">230</text><text transform="translate(639.9,237.95) scale(1,1.1)" font-size="7.3" text-anchor="middle">235</text><text transform="translate(679.45,237.95) scale(1,1.1)" font-size="7.3" text-anchor="middle">240</text><text transform="translate(486.4,230.15) scale(1,1.1)" font-size="7.3" text-anchor="end">0</text><text transform="translate(486.4,212.28) scale(1,1.1)" font-size="7.3" text-anchor="end">20</text><text transform="translate(486.4,194.41) scale(1,1.1)" font-size="7.3" text-anchor="end">40</text><text transform="translate(486.4,176.54) scale(1,1.1)" font-size="7.3" text-anchor="end">60</text><text transform="translate(486.4,158.67) scale(1,1.1)" font-size="7.3" text-anchor="end">80</text><text transform="translate(486.4,140.8) scale(1,1.1)" font-size="7.3" text-anchor="end">100</text><text transform="translate(585.8,250.3) scale(1,1.12)" font-size="9" text-anchor="middle">Time (hours)</text><text transform="translate(579,261.3) scale(1,1.1)" font-size="6.9" font-weight="normal" text-anchor="middle">(j)</text><text transform="translate(468.3,177.5) rotate(-90)" font-size="9.1" text-anchor="middle">SOC(%)</text><rect x="489.6" y="212.55" width="94.4" height="14.2" fill="#fff" stroke="#4d4d4d" stroke-width="0.9"/><line x1="492.16" y1="219.35" x2="509.66" y2="219.35" stroke="#0000ff" stroke-width="1"/><text transform="translate(511.73,221.35) scale(1,1.1)" font-size="7.4">SOC<tspan font-size="6.1" dy="3.4" stroke="none">SC</tspan></text><line x1="536.9" y1="219.35" x2="554.5" y2="219.35" stroke="#ff00ff" stroke-width="1"/><text transform="translate(556.57,221.35) scale(1,1.1)" font-size="7.4">SOC<tspan font-size="6.1" dy="3.4" stroke="none">Batt</tspan></text><rect x="494.6" y="165.5" width="34" height="25.5" fill="#fdfdee" stroke="#d6d6c6" stroke-width="0.6"/><text transform="translate(497.2,177) scale(1,1.1)" style="font-family:'Liberation Sans', sans-serif" font-size="7.7" fill="#2e2e2e" stroke="none">X: 216.1</text><text transform="translate(497.2,187.1) scale(1,1.1)" style="font-family:'Liberation Sans', sans-serif" font-size="7.7" fill="#2e2e2e" stroke="none">Y: 72.99</text><rect x="487.95" y="158.7" width="5.4" height="5.4" fill="#000" stroke="#e8e4b0" stroke-width="0.5"/><rect x="580.7" y="175.3" width="34.2" height="25.3" fill="#fdfdee" stroke="#d6d6c6" stroke-width="0.6"/><text transform="translate(583.3,186.8) scale(1,1.1)" style="font-family:'Liberation Sans', sans-serif" font-size="7.7" fill="#2e2e2e" stroke="none">X: 227</text><text transform="translate(583.3,196.9) scale(1,1.1)" style="font-family:'Liberation Sans', sans-serif" font-size="7.7" fill="#2e2e2e" stroke="none">Y: 62.42</text><rect x="574.15" y="168.4" width="5.4" height="5.4" fill="#000" stroke="#e8e4b0" stroke-width="0.5"/></g><g><line x1="529.71" y1="269.5" x2="529.71" y2="358.75" stroke="#e3e3e3" stroke-width="0.7"/><line x1="569.11" y1="269.5" x2="569.11" y2="358.75" stroke="#e3e3e3" stroke-width="0.7"/><line x1="608.52" y1="269.5" x2="608.52" y2="358.75" stroke="#e3e3e3" stroke-width="0.7"/><line x1="647.93" y1="269.5" x2="647.93" y2="358.75" stroke="#e3e3e3" stroke-width="0.7"/><line x1="490.3" y1="340.9" x2="679.45" y2="340.9" stroke="#e3e3e3" stroke-width="0.7"/><line x1="490.3" y1="323.05" x2="679.45" y2="323.05" stroke="#e3e3e3" stroke-width="0.7"/><line x1="490.3" y1="305.2" x2="679.45" y2="305.2" stroke="#e3e3e3" stroke-width="0.7"/><line x1="490.3" y1="287.35" x2="679.45" y2="287.35" stroke="#e3e3e3" stroke-width="0.7"/><clipPath id="ck"><rect x="490.3" y="269.5" width="189.15" height="89.25"/></clipPath><path d="M490.5,291.62 L500.5,291.62 L501,292.88 L501.75,298.5 L506.75,301 L513,302.25 L519.25,303.5 L525.5,301 L529.25,299.75 L530,302.25 L530.5,304.75 L531.25,301.62 L531.75,303.5 L532.5,302.25 L533.25,305.38 L534,303.5 L534.75,301.62 L535.5,307.25 L536.25,309.75 L537,303.5 L537.75,298.5 L538.5,296 L539,294.75 L539.5,301 L540.25,312.88 L541,299.75 L541.75,295.38 L542.5,296 L543,294.12 L543.75,293.5 L544.5,296.62 L545.25,288.5 L545.75,284.75 L546.5,286 L547,289.12 L547.5,286.62 L548.25,291 L549.25,291.62 L550.5,291.62 L551.75,290.38 L552.5,287.88 L553.25,286.62 L552,287.25 L552.75,288.5 L553.25,287.88 L553.75,301 L554.5,302.25 L555.25,302.88 L556,304.75 L556.75,306.62 L557.5,305.38 L558,303.5 L558.75,302.88 L559.5,304.12 L560.25,302.88 L561,301.62 L561.75,302.25 L562.5,300.38 L563.25,301 L564,299.75 L564.75,301 L565.5,300.38 L566.25,299.75 L567,298.75 L567.5,303.5 L568,316.62 L568.5,308.5 L569,303.5 L569.5,298.5 L570.25,303.5 L570.75,299.75 L571.25,295.38 L571.75,298.5 L572.5,303.5 L573,307.25 L573.5,312.88 L574,304.75 L574.5,301.62 L575,299.75 L575.5,297.25 L576,303.5 L576.5,291 L577,283.5 L577.5,282.25 L578.25,279.12 L579,281 L579.5,284.12 L580.25,281 L580.75,282.25 L581.5,285.38 L582,283.5 L583,282.25 L584,282.88 L585,283.5 L585.75,282.25 L586.5,281 L587.25,287.88 L588,291.62 L588.75,287.25 L589.5,284.75 L590.25,282.88 L591,282.25 L591.75,284.75 L592.5,286.62 L593.25,287.88 L594.5,288.5 L595.75,287.88 L596.5,287.25 L597.5,284.75 L598.25,281.62 L599,282.25 L599.75,284.75 L600.5,291.62 L601,290.38 L601.5,285.38 L602,286.62 L602.75,289.12 L603.25,291.62 L609.5,291.62 L610,289.75 L610.5,291.62 L617,291.62 L616,291.62 L617.25,291.62 L617.75,287.25 L618.25,291.62 L619.75,291 L621,290.38 L622.25,291 L623,289.75 L623.75,291 L624.75,291.62 L625.5,289.75 L626.25,288.5 L627,291 L627.75,286.62 L628.5,291 L629.25,289.75 L630,291.62 L631.5,291.62 L631.75,278.25 L647.25,278.25 L648.5,279.12 L649.75,278.5 L651,279.75 L652.25,280.38 L653.5,281.62 L654.25,278.25 L663.5,278.25 L663.75,291.62 L666,291 L667.25,290.38 L668.5,289.75 L669.75,291 L671,290.38 L672.25,291.62 L677.25,291.62 L677.75,299.75 L678.25,303.5 L678.75,309.75 L679.5,315.38 L680,316" fill="none" stroke="#ff00ff" stroke-width="1.2" stroke-linejoin="round" clip-path="url(#ck)"/><path d="M490.5,288.5 L493,286.62 L495.5,284.12 L498,281 L500.5,278.25 L513,278.25 L525.5,278.25 L538,278.25 L544.88,278.25 L546.12,279.12 L548,279.5 L550.5,278.75 L553,278.5 L552,278.5 L558.25,278.25 L564.5,278.25 L570.75,278.25 L576.38,278.25 L578.25,279.12 L580.75,280 L584.5,280.38 L589.5,280.75 L594.5,281 L598.25,281.25 L600.75,282 L604.5,282.25 L609.5,281.62 L613.25,280.75 L617,280 L616,280.38 L621,280 L626,280.38 L631,281 L636,282 L641,282.88 L647.25,283.75 L653.5,284.5 L659.75,285 L663.5,285.38 L667.25,285.38 L671,285.38 L673.5,282.88 L676,279.75 L678.5,278.25 L682,278.25" fill="none" stroke="#0000ff" stroke-width="1.1" stroke-linejoin="round" clip-path="url(#ck)"/><line x1="490.3" y1="358.75" x2="490.3" y2="356.75" stroke="#4d4d4d" stroke-width="0.6"/><line x1="490.3" y1="269.5" x2="490.3" y2="271.5" stroke="#4d4d4d" stroke-width="0.6"/><line x1="529.71" y1="358.75" x2="529.71" y2="356.75" stroke="#4d4d4d" stroke-width="0.6"/><line x1="529.71" y1="269.5" x2="529.71" y2="271.5" stroke="#4d4d4d" stroke-width="0.6"/><line x1="569.11" y1="358.75" x2="569.11" y2="356.75" stroke="#4d4d4d" stroke-width="0.6"/><line x1="569.11" y1="269.5" x2="569.11" y2="271.5" stroke="#4d4d4d" stroke-width="0.6"/><line x1="608.52" y1="358.75" x2="608.52" y2="356.75" stroke="#4d4d4d" stroke-width="0.6"/><line x1="608.52" y1="269.5" x2="608.52" y2="271.5" stroke="#4d4d4d" stroke-width="0.6"/><line x1="647.93" y1="358.75" x2="647.93" y2="356.75" stroke="#4d4d4d" stroke-width="0.6"/><line x1="647.93" y1="269.5" x2="647.93" y2="271.5" stroke="#4d4d4d" stroke-width="0.6"/><line x1="490.3" y1="358.75" x2="492.3" y2="358.75" stroke="#4d4d4d" stroke-width="0.6"/><line x1="679.45" y1="358.75" x2="677.45" y2="358.75" stroke="#4d4d4d" stroke-width="0.6"/><line x1="490.3" y1="340.9" x2="492.3" y2="340.9" stroke="#4d4d4d" stroke-width="0.6"/><line x1="679.45" y1="340.9" x2="677.45" y2="340.9" stroke="#4d4d4d" stroke-width="0.6"/><line x1="490.3" y1="323.05" x2="492.3" y2="323.05" stroke="#4d4d4d" stroke-width="0.6"/><line x1="679.45" y1="323.05" x2="677.45" y2="323.05" stroke="#4d4d4d" stroke-width="0.6"/><line x1="490.3" y1="305.2" x2="492.3" y2="305.2" stroke="#4d4d4d" stroke-width="0.6"/><line x1="679.45" y1="305.2" x2="677.45" y2="305.2" stroke="#4d4d4d" stroke-width="0.6"/><line x1="490.3" y1="287.35" x2="492.3" y2="287.35" stroke="#4d4d4d" stroke-width="0.6"/><line x1="679.45" y1="287.35" x2="677.45" y2="287.35" stroke="#4d4d4d" stroke-width="0.6"/><line x1="490.3" y1="269.5" x2="492.3" y2="269.5" stroke="#4d4d4d" stroke-width="0.6"/><line x1="679.45" y1="269.5" x2="677.45" y2="269.5" stroke="#4d4d4d" stroke-width="0.6"/><rect x="490.3" y="269.5" width="189.15" height="89.25" fill="none" stroke="#4d4d4d" stroke-width="0.9"/><text transform="translate(490.3,369.95) scale(1,1.1)" font-size="7.3" text-anchor="middle">240</text><text transform="translate(529.71,369.95) scale(1,1.1)" font-size="7.3" text-anchor="middle">245</text><text transform="translate(569.11,369.95) scale(1,1.1)" font-size="7.3" text-anchor="middle">250</text><text transform="translate(608.52,369.95) scale(1,1.1)" font-size="7.3" text-anchor="middle">255</text><text transform="translate(647.93,369.95) scale(1,1.1)" font-size="7.3" text-anchor="middle">260</text><text transform="translate(487.1,362.15) scale(1,1.1)" font-size="7.3" text-anchor="end">0</text><text transform="translate(487.1,344.3) scale(1,1.1)" font-size="7.3" text-anchor="end">20</text><text transform="translate(487.1,326.45) scale(1,1.1)" font-size="7.3" text-anchor="end">40</text><text transform="translate(487.1,308.6) scale(1,1.1)" font-size="7.3" text-anchor="end">60</text><text transform="translate(487.1,290.75) scale(1,1.1)" font-size="7.3" text-anchor="end">80</text><text transform="translate(487.1,272.9) scale(1,1.1)" font-size="7.3" text-anchor="end">100</text><text transform="translate(590,380.6) scale(1,1.12)" font-size="9" text-anchor="middle">Time (hours)</text><text transform="translate(585.4,392.4) scale(1,1.1)" font-size="6.9" font-weight="normal" text-anchor="middle">(j)</text><text transform="translate(471.4,310.9) rotate(-90)" font-size="9.1" text-anchor="middle">SOC(%)</text><rect x="490.3" y="344.55" width="94.4" height="14.2" fill="#fff" stroke="#4d4d4d" stroke-width="0.9"/><line x1="492.86" y1="351.35" x2="510.36" y2="351.35" stroke="#0000ff" stroke-width="1"/><text transform="translate(512.42,353.35) scale(1,1.1)" font-size="7.4">SOC<tspan font-size="6.1" dy="3.4" stroke="none">SC</tspan></text><line x1="537.6" y1="351.35" x2="555.2" y2="351.35" stroke="#ff00ff" stroke-width="1"/><text transform="translate(557.26,353.35) scale(1,1.1)" font-size="7.4">SOC<tspan font-size="6.1" dy="3.4" stroke="none">Batt</tspan></text><rect x="495.4" y="293.1" width="34" height="25.6" fill="#fdfdee" stroke="#d6d6c6" stroke-width="0.6"/><text transform="translate(498,304.6) scale(1,1.1)" style="font-family:'Liberation Sans', sans-serif" font-size="7.7" fill="#2e2e2e" stroke="none">X: 240.2</text><text transform="translate(498,314.7) scale(1,1.1)" style="font-family:'Liberation Sans', sans-serif" font-size="7.7" fill="#2e2e2e" stroke="none">Y: 78.3</text><rect x="488.4" y="286.2" width="5.4" height="5.4" fill="#000" stroke="#e8e4b0" stroke-width="0.5"/><rect x="572.4" y="324.3" width="34.2" height="25.9" fill="#fdfdee" stroke="#d6d6c6" stroke-width="0.6"/><text transform="translate(575,335.8) scale(1,1.1)" style="font-family:'Liberation Sans', sans-serif" font-size="7.7" fill="#2e2e2e" stroke="none">X: 249.9</text><text transform="translate(575,345.9) scale(1,1.1)" style="font-family:'Liberation Sans', sans-serif" font-size="7.7" fill="#2e2e2e" stroke="none">Y: 42.98</text><rect x="565.75" y="317.6" width="5.4" height="5.4" fill="#000" stroke="#e8e4b0" stroke-width="0.5"/></g><g><line x1="509.22" y1="401.6" x2="509.22" y2="490.9" stroke="#e3e3e3" stroke-width="0.7"/><line x1="556.5" y1="401.6" x2="556.5" y2="490.9" stroke="#e3e3e3" stroke-width="0.7"/><line x1="603.79" y1="401.6" x2="603.79" y2="490.9" stroke="#e3e3e3" stroke-width="0.7"/><line x1="651.08" y1="401.6" x2="651.08" y2="490.9" stroke="#e3e3e3" stroke-width="0.7"/><line x1="490.3" y1="473.04" x2="679.45" y2="473.04" stroke="#e3e3e3" stroke-width="0.7"/><line x1="490.3" y1="455.18" x2="679.45" y2="455.18" stroke="#e3e3e3" stroke-width="0.7"/><line x1="490.3" y1="437.32" x2="679.45" y2="437.32" stroke="#e3e3e3" stroke-width="0.7"/><line x1="490.3" y1="419.46" x2="679.45" y2="419.46" stroke="#e3e3e3" stroke-width="0.7"/><clipPath id="cl"><rect x="490.3" y="401.6" width="189.15" height="89.3"/></clipPath><path d="M490.25,433.62 L491.25,434.88 L492,435.5 L492.75,438 L493.5,439.88 L494.25,441.75 L495,443.62 L495.75,445.5 L496.5,446.75 L497.25,448 L498,446.12 L498.75,444.25 L499.5,442.38 L500.25,443 L501,443.62 L501.75,441.75 L502.5,444.25 L503,443 L503.5,441.12 L504.25,443.62 L505,445.5 L505.5,446.75 L506.25,444.25 L506.75,435.5 L507.5,431.12 L508,433 L508.75,429.88 L509.5,426.75 L510.25,429.25 L511,427.38 L511.5,432.38 L512,428.62 L512.5,426.75 L513.25,431.12 L513.75,428 L514.25,434.25 L514.75,439.25 L515.25,436.12 L515.75,431.75 L516.25,438 L516.75,441.75 L517.25,435.5 L517.75,446.75 L518.25,448 L518.75,439.25 L519.25,430.5 L520,426.75 L520.5,421.12 L521.25,423 L521.75,419.88 L522.25,414.25 L522.75,418 L523.25,423 L523.75,419.88 L524.25,421.12 L524.75,423 L525.5,423 L526.75,423 L527.75,423.62 L528.25,439.25 L528.75,441.75 L529.25,446.12 L529.75,442.38 L530.25,444.88 L530.75,441.12 L531.25,439.25 L532,441.12 L532.75,442.38 L533.5,440.5 L534.25,438.62 L534.75,441.75 L535.25,447.38 L535.75,443.62 L536.5,439.25 L537,441.12 L537.75,438 L538.5,435.5 L539.25,440.5 L539.75,445.5 L540.5,448 L541.25,447.38 L542,444.25 L542.5,440.5 L543,443 L543.75,439.25 L544.5,436.75 L545.25,438 L545.75,453 L546.25,445.5 L546.75,438 L547.5,440.5 L548.25,435.5 L549,433 L549.75,441.75 L550.25,449.88 L550.75,439.25 L551.25,434.25 L552,430.5 L552.75,429.25 L553.25,432.38 L552,429.25 L552.75,434.25 L553.5,436.75 L554.25,433 L555,440.5 L555.5,448 L556,443 L556.5,423 L557,420.5 L557.5,421.75 L558,417.38 L558.5,418.62 L559,423 L559.5,419.88 L560,423.62 L560.75,422.38 L561.5,419.88 L562,418 L562.5,420.5 L563,423 L563.75,423.62 L564.5,423 L565.75,423.62 L567,421.75 L567.75,419.88 L568.5,419.25 L569.25,420.5 L570,422.38 L570.75,423 L572,423.62 L573,424.88 L573.75,426.12 L574.5,429.25 L575.25,432.38 L576,434.25 L576.5,428 L577,420.5 L577.5,419.25 L578,420.5 L578.5,421.75 L579.25,422.38 L580,420.5 L580.75,418 L581.5,417.38 L582,419.88 L582.75,423 L583.75,423.62 L585,423.62 L585.5,430.5 L586.5,431.12 L587.5,431.75 L588.25,431.12 L589,430.5 L590,428.62 L590.75,426.75 L591.5,429.88 L592.25,432.38 L593,429.25 L593.5,435.5 L594.25,439.25 L594.75,435.5 L595.5,430.5 L596.25,426.12 L596.75,430.5 L597.25,436.75 L597.75,434.88 L598.25,430.5 L599,428 L599.75,424.25 L600.25,425.5 L600.75,429.25 L601.5,425.5 L602.25,428 L602.75,431.75 L603.5,428.62 L604.25,426.12 L605,430.5 L605.75,435.5 L606.5,433 L607,429.25 L607.75,429.88 L608.5,428 L609.25,426.12 L609.75,430.5 L610.25,435.5 L610.75,431.75 L611.5,428 L612.25,425.5 L613,423 L613.75,423.62 L614.5,428 L615.25,431.75 L616,429.25 L616.75,426.75 L617.5,430.5 L616,428 L616.75,431.75 L617.5,428.62 L618.25,433.62 L619,429.25 L619.75,431.12 L620.5,428.62 L621.25,435.5 L621.75,433 L622.25,410.5 L623.5,410.5 L624.75,413 L625.5,410.5 L626.25,412.38 L627,410.5 L627.75,411.75 L628.5,413 L629.25,412.38 L630,414.25 L630.75,411.75 L631.5,410.5 L632.25,410.25 L641,410.25 L641.5,415.5 L642,423.62 L642.75,421.12 L643.5,416.75 L644.25,419.25 L645,417.38 L645.75,414.25 L646.25,412.38 L647,415.5 L647.75,416.75 L648.5,419.25 L649.25,419.25 L650,418 L650.75,414.25 L651.5,411.75 L652.25,413.62 L653,411.12 L653.75,412.38 L654.5,414.25 L655.25,410.5 L656,413 L656.75,411.75 L657.5,414.25 L658.25,412.38 L659,413.62 L659.75,411.12 L660.25,414.25 L660.75,419.25 L661,423.62 L664.12,423.62 L671,423.62 L671.5,440.5 L673.5,440.5 L674.75,439.88 L675.75,438 L676.5,441.12 L677.25,438.62 L678,437.38 L678.5,442.38 L679.25,439.25 L682,439.25" fill="none" stroke="#ff00ff" stroke-width="1.2" stroke-linejoin="round" clip-path="url(#cl)"/><path d="M490.25,410.25 L500.5,410.25 L513,410.25 L521.12,410.25 L522.38,411.12 L524.25,411.75 L526.12,411.12 L527.38,410.25 L538,410.25 L553,410.25 L552,410.25 L557,410.5 L559.5,411.12 L562,411.5 L564.5,410.88 L567,410.5 L569.5,410.88 L572,410.5 L574.5,410.75 L577,410.25 L579.5,410.88 L582,411.12 L584.5,410.5 L587,410.25 L617,410.25 L616,410.25 L622.25,410.25 L628.5,411.12 L632.25,412.38 L636,413.62 L641,414.5 L646,415.5 L651,416.5 L656,417.38 L661,417.75 L663.5,417 L666,416.5 L668.5,414.88 L671,411.75 L672.88,410.25 L682,410.25" fill="none" stroke="#0000ff" stroke-width="1.1" stroke-linejoin="round" clip-path="url(#cl)"/><line x1="509.22" y1="490.9" x2="509.22" y2="488.9" stroke="#4d4d4d" stroke-width="0.6"/><line x1="509.22" y1="401.6" x2="509.22" y2="403.6" stroke="#4d4d4d" stroke-width="0.6"/><line x1="556.5" y1="490.9" x2="556.5" y2="488.9" stroke="#4d4d4d" stroke-width="0.6"/><line x1="556.5" y1="401.6" x2="556.5" y2="403.6" stroke="#4d4d4d" stroke-width="0.6"/><line x1="603.79" y1="490.9" x2="603.79" y2="488.9" stroke="#4d4d4d" stroke-width="0.6"/><line x1="603.79" y1="401.6" x2="603.79" y2="403.6" stroke="#4d4d4d" stroke-width="0.6"/><line x1="651.08" y1="490.9" x2="651.08" y2="488.9" stroke="#4d4d4d" stroke-width="0.6"/><line x1="651.08" y1="401.6" x2="651.08" y2="403.6" stroke="#4d4d4d" stroke-width="0.6"/><line x1="490.3" y1="490.9" x2="492.3" y2="490.9" stroke="#4d4d4d" stroke-width="0.6"/><line x1="679.45" y1="490.9" x2="677.45" y2="490.9" stroke="#4d4d4d" stroke-width="0.6"/><line x1="490.3" y1="473.04" x2="492.3" y2="473.04" stroke="#4d4d4d" stroke-width="0.6"/><line x1="679.45" y1="473.04" x2="677.45" y2="473.04" stroke="#4d4d4d" stroke-width="0.6"/><line x1="490.3" y1="455.18" x2="492.3" y2="455.18" stroke="#4d4d4d" stroke-width="0.6"/><line x1="679.45" y1="455.18" x2="677.45" y2="455.18" stroke="#4d4d4d" stroke-width="0.6"/><line x1="490.3" y1="437.32" x2="492.3" y2="437.32" stroke="#4d4d4d" stroke-width="0.6"/><line x1="679.45" y1="437.32" x2="677.45" y2="437.32" stroke="#4d4d4d" stroke-width="0.6"/><line x1="490.3" y1="419.46" x2="492.3" y2="419.46" stroke="#4d4d4d" stroke-width="0.6"/><line x1="679.45" y1="419.46" x2="677.45" y2="419.46" stroke="#4d4d4d" stroke-width="0.6"/><line x1="490.3" y1="401.6" x2="492.3" y2="401.6" stroke="#4d4d4d" stroke-width="0.6"/><line x1="679.45" y1="401.6" x2="677.45" y2="401.6" stroke="#4d4d4d" stroke-width="0.6"/><rect x="490.3" y="401.6" width="189.15" height="89.3" fill="none" stroke="#4d4d4d" stroke-width="0.9"/><text transform="translate(509.22,502.1) scale(1,1.1)" font-size="7.3" text-anchor="middle">270</text><text transform="translate(556.5,502.1) scale(1,1.1)" font-size="7.3" text-anchor="middle">275</text><text transform="translate(603.79,502.1) scale(1,1.1)" font-size="7.3" text-anchor="middle">280</text><text transform="translate(651.08,502.1) scale(1,1.1)" font-size="7.3" text-anchor="middle">285</text><text transform="translate(487.1,494.3) scale(1,1.1)" font-size="7.3" text-anchor="end">0</text><text transform="translate(487.1,476.44) scale(1,1.1)" font-size="7.3" text-anchor="end">20</text><text transform="translate(487.1,458.58) scale(1,1.1)" font-size="7.3" text-anchor="end">40</text><text transform="translate(487.1,440.72) scale(1,1.1)" font-size="7.3" text-anchor="end">60</text><text transform="translate(487.1,422.86) scale(1,1.1)" font-size="7.3" text-anchor="end">80</text><text transform="translate(487.1,405) scale(1,1.1)" font-size="7.3" text-anchor="end">100</text><text transform="translate(578.6,514.3) scale(1,1.12)" font-size="9" text-anchor="middle">Time (hours)</text><text transform="translate(579,525.3) scale(1,1.1)" font-size="6.9" font-weight="normal" text-anchor="middle">(l)</text><text transform="translate(470.6,444.7) rotate(-90)" font-size="9.1" text-anchor="middle">SOC(%)</text><rect x="490.3" y="476.7" width="94.4" height="14.2" fill="#fff" stroke="#4d4d4d" stroke-width="0.9"/><line x1="492.86" y1="483.5" x2="510.36" y2="483.5" stroke="#0000ff" stroke-width="1"/><text transform="translate(512.42,485.5) scale(1,1.1)" font-size="7.4">SOC<tspan font-size="6.1" dy="3.4" stroke="none">SC</tspan></text><line x1="537.6" y1="483.5" x2="555.2" y2="483.5" stroke="#ff00ff" stroke-width="1"/><text transform="translate(557.26,485.5) scale(1,1.1)" font-size="7.4">SOC<tspan font-size="6.1" dy="3.4" stroke="none">Batt</tspan></text><rect x="544.2" y="457.5" width="33.9" height="25.1" fill="#fdfdee" stroke="#d6d6c6" stroke-width="0.6"/><text transform="translate(546.8,469) scale(1,1.1)" style="font-family:'Liberation Sans', sans-serif" font-size="7.7" fill="#2e2e2e" stroke="none">X: 273.3</text><text transform="translate(546.8,479.1) scale(1,1.1)" style="font-family:'Liberation Sans', sans-serif" font-size="7.7" fill="#2e2e2e" stroke="none">Y: 42.24</text><rect x="537.55" y="450.8" width="5.4" height="5.4" fill="#000" stroke="#e8e4b0" stroke-width="0.5"/><rect x="626.3" y="427.5" width="29.9" height="25.5" fill="#fdfdee" stroke="#d6d6c6" stroke-width="0.6"/><text transform="translate(628.9,439) scale(1,1.1)" style="font-family:'Liberation Sans', sans-serif" font-size="7.7" fill="#2e2e2e" stroke="none">X: 286</text><text transform="translate(628.9,449.1) scale(1,1.1)" style="font-family:'Liberation Sans', sans-serif" font-size="7.7" fill="#2e2e2e" stroke="none">Y: 75.6</text><rect x="657.7" y="420.85" width="5.4" height="5.4" fill="#000" stroke="#e8e4b0" stroke-width="0.5"/></g>
</svg></body></html>
